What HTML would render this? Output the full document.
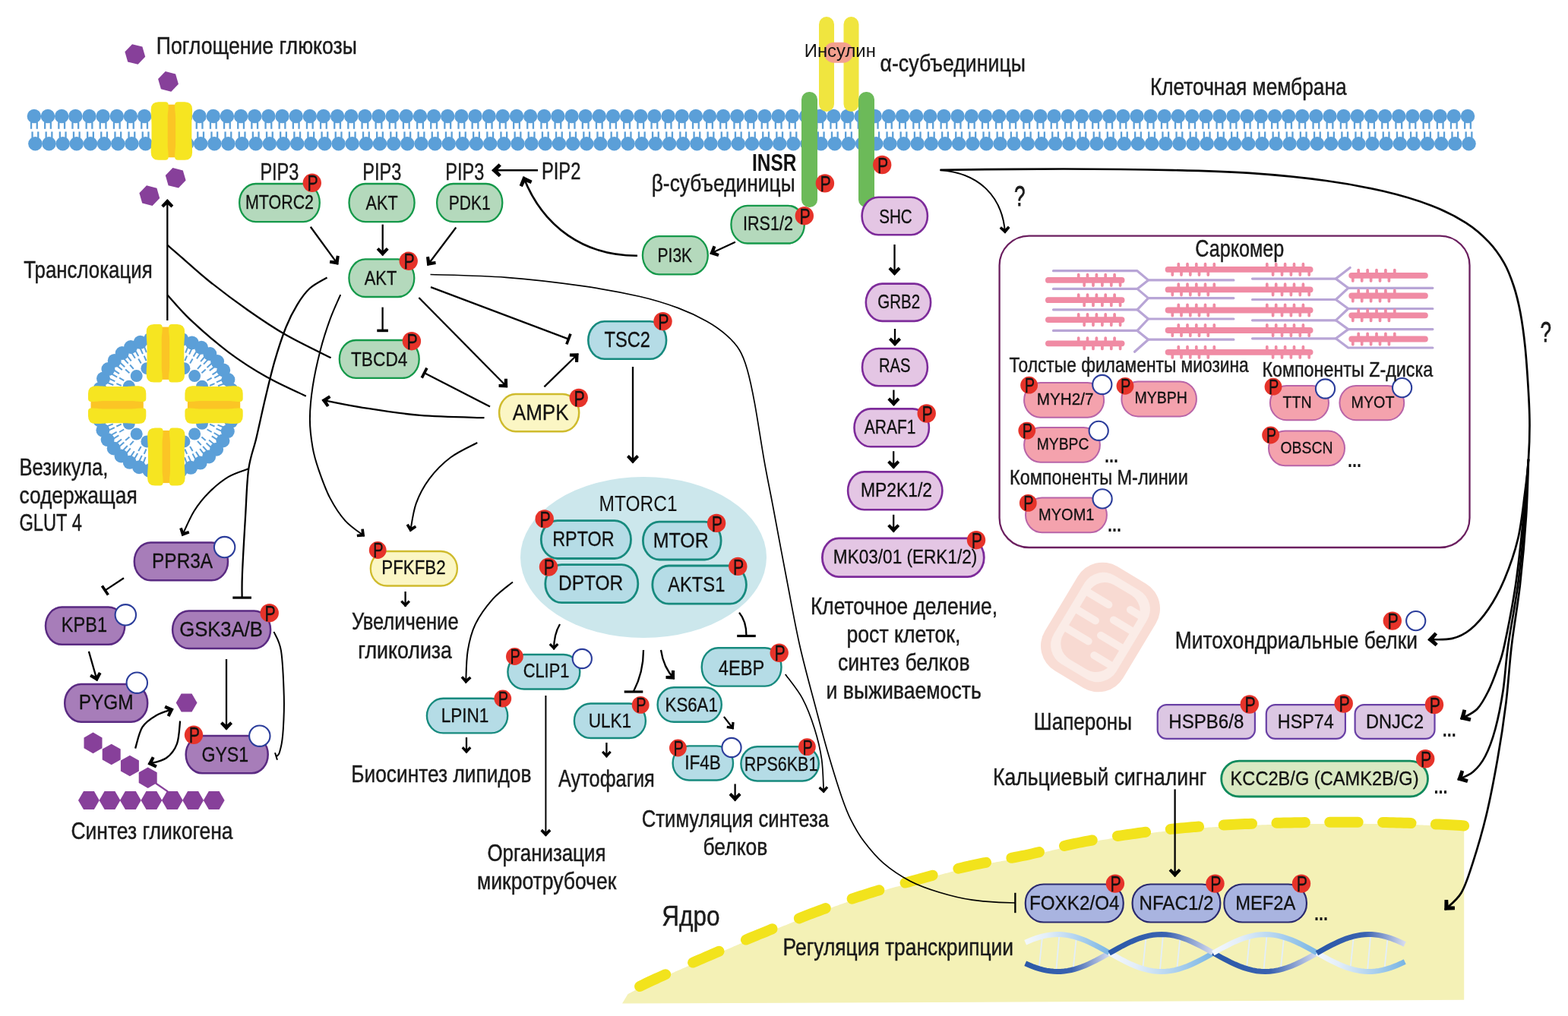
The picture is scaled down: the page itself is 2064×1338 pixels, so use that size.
<!DOCTYPE html>
<html lang="ru"><head><meta charset="utf-8"><title>Инсулиновый сигналинг</title>
<style>
html,body{margin:0;padding:0;background:#fff;}
body{width:2064px;height:1338px;overflow:hidden;font-family:"Liberation Sans",sans-serif;}
svg{display:block;}
svg text{font-family:"Liberation Sans",sans-serif;}
</style></head><body>
<svg width="2064" height="1338" viewBox="0 0 2064 1338">
<defs>
<marker id="ah" markerUnits="strokeWidth" markerWidth="13.043" markerHeight="13.043" viewBox="-15 -15 30 30" refX="0" refY="0" orient="auto" overflow="visible"><path d="M0.9,0 L-7.6,-8 L-10.5,-5.2 L-5.7,0 L-10.5,5.2 L-7.6,8 Z" fill="#000"/></marker>
<marker id="ahs" markerUnits="strokeWidth" markerWidth="13.043" markerHeight="13.043" viewBox="-15 -15 30 30" refX="0" refY="0" orient="auto" overflow="visible"><path d="M0.6,0 L-6.2,-6.4 L-8.5,-4.1 L-4.4,0 L-8.5,4.1 L-6.2,6.4 Z" fill="#000"/></marker>
<marker id="th" markerUnits="strokeWidth" markerWidth="13.043" markerHeight="13.043" viewBox="-15 -15 30 30" refX="0" refY="0" orient="auto" overflow="visible"><rect x="-2" y="-7.3" width="3.6" height="14.6" fill="#000"/></marker>
<marker id="tw" markerUnits="strokeWidth" markerWidth="13.043" markerHeight="13.043" viewBox="-15 -15 30 30" refX="0" refY="0" orient="auto" overflow="visible"><rect x="-1.6" y="-12.3" width="3.2" height="24.6" fill="#000"/></marker>
<marker id="tf" markerUnits="userSpaceOnUse" markerWidth="30" markerHeight="30" viewBox="-15 -15 30 30" refX="0" refY="0" orient="auto" overflow="visible"><rect x="-1.1" y="-13.2" width="2.3" height="26.4" fill="#000"/></marker>
<marker id="ths" markerUnits="userSpaceOnUse" markerWidth="24" markerHeight="24" viewBox="-12 -12 24 24" refX="0" refY="0" orient="auto" overflow="visible"><rect x="-1" y="-5" width="2" height="10" fill="#000"/></marker>
<marker id="ahf" markerUnits="userSpaceOnUse" markerWidth="30" markerHeight="30" viewBox="-15 -15 30 30" refX="0" refY="0" orient="auto" overflow="visible"><path d="M0.6,0 L-6.2,-6.4 L-8.5,-4.1 L-4.4,0 L-8.5,4.1 L-6.2,6.4 Z" fill="#000"/></marker>
<linearGradient id="dna1" x1="0" x2="1" y1="0" y2="0"><stop offset="0" stop-color="#e8f2fb"/><stop offset="1" stop-color="#2f5fae"/></linearGradient>
<linearGradient id="dna2" x1="0" x2="1" y1="0" y2="0"><stop offset="0" stop-color="#2f5fae"/><stop offset="1" stop-color="#e8f2fb"/></linearGradient>
</defs>
<g id="all" style="will-change:opacity" opacity="0.9999">
<path d="M818.9,1321.8 L826.4,1309.2 L827.0,1308.9 L827.7,1308.5 L828.4,1308.1 L829.1,1307.8 L829.9,1307.4 L830.6,1307.0 L831.4,1306.5 L832.2,1306.1 L833.1,1305.7 L833.9,1305.2 L834.8,1304.8 L835.7,1304.3 L836.6,1303.8 L837.6,1303.3 L838.5,1302.8 L839.5,1302.3 L840.5,1301.8 L841.5,1301.3 L842.6,1300.8 L843.7,1300.2 L844.7,1299.7 L845.9,1299.1 L847.0,1298.6 L848.1,1298.0 L849.3,1297.4 L850.5,1296.9 L851.7,1296.3 L853.0,1295.7 L854.2,1295.1 L855.5,1294.5 L856.8,1293.9 L858.1,1293.3 L859.4,1292.7 L860.8,1292.1 L862.3,1291.4 L863.7,1290.7 L865.2,1290.1 L866.7,1289.4 L868.3,1288.7 L869.9,1288.0 L871.5,1287.3 L873.2,1286.5 L874.8,1285.8 L876.5,1285.0 L878.3,1284.3 L880.0,1283.5 L881.8,1282.7 L883.6,1282.0 L885.4,1281.2 L887.2,1280.4 L889.0,1279.6 L890.9,1278.8 L892.7,1278.0 L894.6,1277.2 L896.4,1276.4 L898.3,1275.6 L900.2,1274.7 L902.1,1273.9 L904.0,1273.1 L905.9,1272.3 L907.7,1271.5 L909.6,1270.7 L911.5,1269.9 L913.4,1269.1 L915.2,1268.3 L917.1,1267.5 L918.9,1266.7 L920.7,1265.9 L922.6,1265.1 L924.4,1264.3 L926.1,1263.6 L927.9,1262.8 L929.7,1262.0 L931.4,1261.3 L933.2,1260.5 L934.9,1259.8 L936.7,1259.0 L938.4,1258.3 L940.2,1257.5 L941.9,1256.7 L943.7,1256.0 L945.4,1255.2 L947.2,1254.5 L949.0,1253.7 L950.7,1252.9 L952.5,1252.2 L954.2,1251.4 L956.0,1250.7 L957.7,1249.9 L959.5,1249.2 L961.3,1248.4 L963.0,1247.7 L964.8,1246.9 L966.5,1246.1 L968.3,1245.4 L970.1,1244.6 L971.8,1243.9 L973.6,1243.1 L975.3,1242.4 L977.1,1241.7 L978.9,1240.9 L980.6,1240.2 L982.4,1239.4 L984.2,1238.7 L985.9,1237.9 L987.7,1237.2 L989.5,1236.5 L991.2,1235.7 L993.0,1235.0 L994.8,1234.3 L996.5,1233.5 L998.3,1232.8 L1000.1,1232.1 L1001.8,1231.3 L1003.6,1230.6 L1005.4,1229.9 L1007.2,1229.2 L1009.0,1228.4 L1010.7,1227.7 L1012.5,1227.0 L1014.3,1226.3 L1016.1,1225.5 L1017.9,1224.8 L1019.6,1224.1 L1021.4,1223.4 L1023.2,1222.7 L1025.0,1221.9 L1026.8,1221.2 L1028.6,1220.5 L1030.4,1219.8 L1032.2,1219.1 L1033.9,1218.4 L1035.7,1217.7 L1037.5,1217.0 L1039.3,1216.2 L1041.1,1215.5 L1042.9,1214.8 L1044.7,1214.1 L1046.4,1213.4 L1048.2,1212.7 L1050.0,1212.1 L1051.8,1211.4 L1053.6,1210.7 L1055.3,1210.0 L1057.1,1209.3 L1058.9,1208.6 L1060.7,1207.9 L1062.4,1207.3 L1064.2,1206.6 L1066.0,1205.9 L1067.7,1205.3 L1069.5,1204.6 L1071.3,1203.9 L1073.0,1203.3 L1074.8,1202.6 L1076.5,1202.0 L1078.3,1201.3 L1080.0,1200.7 L1081.8,1200.0 L1083.5,1199.4 L1085.3,1198.7 L1087.0,1198.1 L1088.7,1197.4 L1090.5,1196.8 L1092.2,1196.2 L1094.0,1195.5 L1095.7,1194.9 L1097.4,1194.3 L1099.2,1193.6 L1100.9,1193.0 L1102.6,1192.4 L1104.4,1191.8 L1106.1,1191.1 L1107.9,1190.5 L1109.6,1189.9 L1111.3,1189.3 L1113.1,1188.7 L1114.8,1188.1 L1116.5,1187.5 L1118.3,1186.9 L1120.0,1186.3 L1121.7,1185.7 L1123.5,1185.1 L1125.2,1184.5 L1127.0,1183.9 L1128.7,1183.3 L1130.4,1182.8 L1132.2,1182.2 L1133.9,1181.6 L1135.7,1181.0 L1137.4,1180.5 L1139.2,1179.9 L1141.0,1179.3 L1142.7,1178.8 L1144.5,1178.2 L1146.2,1177.7 L1148.0,1177.1 L1149.8,1176.6 L1151.5,1176.1 L1153.3,1175.5 L1155.1,1175.0 L1156.8,1174.5 L1158.6,1173.9 L1160.4,1173.4 L1162.1,1172.9 L1163.9,1172.4 L1165.7,1171.9 L1167.5,1171.4 L1169.2,1170.8 L1171.0,1170.3 L1172.8,1169.8 L1174.5,1169.3 L1176.3,1168.8 L1178.1,1168.3 L1179.9,1167.8 L1181.6,1167.4 L1183.4,1166.9 L1185.2,1166.4 L1187.0,1165.9 L1188.7,1165.4 L1190.5,1164.9 L1192.3,1164.4 L1194.0,1163.9 L1195.8,1163.4 L1197.6,1163.0 L1199.3,1162.5 L1201.1,1162.0 L1202.9,1161.5 L1204.6,1161.0 L1206.4,1160.6 L1208.1,1160.1 L1209.9,1159.6 L1211.7,1159.1 L1213.4,1158.6 L1215.2,1158.2 L1216.9,1157.7 L1218.7,1157.2 L1220.4,1156.7 L1222.2,1156.2 L1223.9,1155.8 L1225.7,1155.3 L1227.4,1154.8 L1229.1,1154.3 L1230.9,1153.9 L1232.6,1153.4 L1234.4,1152.9 L1236.1,1152.4 L1237.9,1152.0 L1239.6,1151.5 L1241.3,1151.0 L1243.1,1150.6 L1244.8,1150.1 L1246.6,1149.7 L1248.3,1149.2 L1250.0,1148.7 L1251.8,1148.3 L1253.5,1147.8 L1255.3,1147.4 L1257.0,1146.9 L1258.8,1146.5 L1260.5,1146.1 L1262.2,1145.6 L1264.0,1145.2 L1265.7,1144.8 L1267.5,1144.4 L1269.2,1143.9 L1271.0,1143.5 L1272.7,1143.1 L1274.5,1142.7 L1276.2,1142.3 L1277.9,1141.9 L1279.7,1141.5 L1281.5,1141.1 L1283.2,1140.7 L1285.0,1140.4 L1286.7,1140.0 L1288.5,1139.6 L1290.2,1139.3 L1292.0,1138.9 L1293.8,1138.6 L1295.5,1138.2 L1297.3,1137.9 L1299.0,1137.6 L1300.8,1137.2 L1302.6,1136.9 L1304.3,1136.6 L1306.1,1136.3 L1307.9,1136.0 L1309.6,1135.7 L1311.4,1135.3 L1313.1,1135.0 L1314.9,1134.7 L1316.7,1134.4 L1318.4,1134.1 L1320.2,1133.8 L1322.0,1133.5 L1323.7,1133.2 L1325.5,1132.9 L1327.2,1132.6 L1329.0,1132.2 L1330.8,1131.9 L1332.5,1131.6 L1334.3,1131.3 L1336.0,1131.0 L1337.8,1130.6 L1339.5,1130.3 L1341.3,1130.0 L1343.0,1129.6 L1344.8,1129.3 L1346.5,1128.9 L1348.3,1128.6 L1350.0,1128.2 L1351.7,1127.8 L1353.5,1127.5 L1355.2,1127.1 L1356.9,1126.7 L1358.7,1126.3 L1360.4,1125.9 L1362.1,1125.5 L1363.8,1125.1 L1365.6,1124.7 L1367.3,1124.3 L1369.0,1123.9 L1370.7,1123.4 L1372.4,1123.0 L1374.1,1122.6 L1375.9,1122.2 L1377.6,1121.8 L1379.3,1121.3 L1381.0,1120.9 L1382.7,1120.5 L1384.4,1120.0 L1386.1,1119.6 L1387.8,1119.2 L1389.6,1118.8 L1391.3,1118.4 L1393.0,1117.9 L1394.7,1117.5 L1396.4,1117.1 L1398.1,1116.7 L1399.8,1116.3 L1401.6,1115.9 L1403.3,1115.5 L1405.0,1115.1 L1406.7,1114.7 L1408.4,1114.3 L1410.2,1113.9 L1411.9,1113.5 L1413.6,1113.2 L1415.3,1112.8 L1417.1,1112.5 L1418.8,1112.1 L1420.5,1111.8 L1422.3,1111.4 L1424.0,1111.1 L1425.7,1110.7 L1427.5,1110.4 L1429.2,1110.1 L1431.0,1109.7 L1432.7,1109.4 L1434.5,1109.1 L1436.2,1108.8 L1437.9,1108.5 L1439.7,1108.2 L1441.4,1107.9 L1443.2,1107.5 L1444.9,1107.2 L1446.7,1106.9 L1448.4,1106.6 L1450.2,1106.3 L1451.9,1106.1 L1453.7,1105.8 L1455.4,1105.5 L1457.2,1105.2 L1458.9,1104.9 L1460.7,1104.6 L1462.4,1104.3 L1464.2,1104.1 L1466.0,1103.8 L1467.7,1103.5 L1469.5,1103.3 L1471.2,1103.0 L1473.0,1102.7 L1474.7,1102.5 L1476.5,1102.2 L1478.3,1101.9 L1480.0,1101.7 L1481.8,1101.4 L1483.5,1101.2 L1485.3,1100.9 L1487.0,1100.7 L1488.8,1100.4 L1490.6,1100.2 L1492.3,1099.9 L1494.1,1099.7 L1495.8,1099.4 L1497.6,1099.2 L1499.4,1098.9 L1501.1,1098.7 L1502.9,1098.5 L1504.7,1098.2 L1506.4,1098.0 L1508.2,1097.8 L1510.0,1097.5 L1511.7,1097.3 L1513.5,1097.1 L1515.3,1096.9 L1517.0,1096.7 L1518.8,1096.4 L1520.6,1096.2 L1522.4,1096.0 L1524.1,1095.8 L1525.9,1095.6 L1527.7,1095.4 L1529.4,1095.2 L1531.2,1095.0 L1533.0,1094.8 L1534.8,1094.6 L1536.5,1094.4 L1538.3,1094.2 L1540.1,1094.0 L1541.8,1093.8 L1543.6,1093.7 L1545.4,1093.5 L1547.1,1093.3 L1548.9,1093.1 L1550.7,1092.9 L1552.4,1092.8 L1554.2,1092.6 L1556.0,1092.4 L1557.7,1092.3 L1559.5,1092.1 L1561.3,1091.9 L1563.0,1091.8 L1564.8,1091.6 L1566.5,1091.5 L1568.3,1091.3 L1570.1,1091.2 L1571.8,1091.0 L1573.6,1090.9 L1575.4,1090.8 L1577.1,1090.6 L1578.9,1090.5 L1580.6,1090.4 L1582.4,1090.2 L1584.2,1090.1 L1585.9,1090.0 L1587.7,1089.9 L1589.4,1089.8 L1591.2,1089.6 L1592.9,1089.5 L1594.7,1089.4 L1596.5,1089.3 L1598.2,1089.2 L1600.0,1089.1 L1601.7,1089.0 L1603.5,1088.9 L1605.2,1088.8 L1607.0,1088.7 L1608.8,1088.6 L1610.5,1088.5 L1612.3,1088.4 L1614.0,1088.3 L1615.8,1088.2 L1617.5,1088.1 L1619.3,1088.0 L1621.0,1087.9 L1622.8,1087.8 L1624.5,1087.8 L1626.3,1087.7 L1628.0,1087.6 L1629.8,1087.5 L1631.6,1087.4 L1633.3,1087.3 L1635.1,1087.3 L1636.8,1087.2 L1638.5,1087.1 L1640.3,1087.0 L1642.0,1087.0 L1643.8,1086.9 L1645.5,1086.8 L1647.3,1086.8 L1649.0,1086.7 L1650.8,1086.6 L1652.5,1086.6 L1654.3,1086.5 L1656.0,1086.5 L1657.8,1086.4 L1659.5,1086.4 L1661.2,1086.3 L1663.0,1086.3 L1664.7,1086.2 L1666.5,1086.2 L1668.2,1086.1 L1670.0,1086.1 L1671.7,1086.0 L1673.4,1086.0 L1675.2,1085.9 L1676.9,1085.9 L1678.7,1085.8 L1680.4,1085.8 L1682.2,1085.8 L1683.9,1085.7 L1685.6,1085.7 L1687.4,1085.6 L1689.1,1085.6 L1690.9,1085.6 L1692.6,1085.5 L1694.4,1085.5 L1696.1,1085.5 L1697.9,1085.4 L1699.6,1085.4 L1701.3,1085.4 L1703.1,1085.3 L1704.8,1085.3 L1706.6,1085.3 L1708.3,1085.2 L1710.1,1085.2 L1711.8,1085.2 L1713.6,1085.2 L1715.3,1085.1 L1717.1,1085.1 L1718.8,1085.1 L1720.5,1085.1 L1722.3,1085.1 L1724.0,1085.0 L1725.8,1085.0 L1727.5,1085.0 L1729.3,1085.0 L1731.0,1085.0 L1732.8,1084.9 L1734.5,1084.9 L1736.3,1084.9 L1738.0,1084.9 L1739.7,1084.9 L1741.5,1084.9 L1743.2,1084.9 L1745.0,1084.9 L1746.7,1084.9 L1748.5,1084.8 L1750.2,1084.8 L1752.0,1084.8 L1753.7,1084.8 L1755.4,1084.8 L1757.2,1084.8 L1758.9,1084.8 L1760.7,1084.8 L1762.4,1084.8 L1764.2,1084.8 L1765.9,1084.8 L1767.7,1084.8 L1769.4,1084.8 L1771.1,1084.8 L1772.9,1084.8 L1774.6,1084.8 L1776.4,1084.8 L1778.1,1084.8 L1779.9,1084.8 L1781.6,1084.8 L1783.3,1084.8 L1785.1,1084.8 L1786.8,1084.8 L1788.6,1084.8 L1790.3,1084.8 L1792.1,1084.8 L1793.8,1084.8 L1795.5,1084.8 L1797.3,1084.8 L1799.0,1084.9 L1800.8,1084.9 L1802.5,1084.9 L1804.2,1084.9 L1806.0,1084.9 L1807.7,1084.9 L1809.5,1084.9 L1811.2,1084.9 L1813.0,1085.0 L1814.7,1085.0 L1816.4,1085.0 L1818.2,1085.0 L1819.9,1085.0 L1821.7,1085.1 L1823.4,1085.1 L1825.2,1085.1 L1826.9,1085.1 L1828.6,1085.2 L1830.4,1085.2 L1832.1,1085.2 L1833.9,1085.3 L1835.6,1085.3 L1837.4,1085.4 L1839.1,1085.4 L1840.9,1085.4 L1842.6,1085.5 L1844.4,1085.5 L1846.3,1085.6 L1848.1,1085.7 L1849.9,1085.7 L1851.8,1085.8 L1853.7,1085.8 L1855.6,1085.9 L1857.4,1086.0 L1859.3,1086.1 L1861.3,1086.1 L1863.2,1086.2 L1865.1,1086.3 L1867.0,1086.3 L1868.9,1086.4 L1870.8,1086.5 L1872.7,1086.6 L1874.5,1086.7 L1876.4,1086.8 L1878.3,1086.8 L1880.1,1086.9 L1881.9,1087.0 L1883.8,1087.1 L1885.6,1087.2 L1887.3,1087.2 L1889.1,1087.3 L1890.8,1087.4 L1892.5,1087.5 L1894.2,1087.6 L1895.8,1087.6 L1897.4,1087.7 L1899.0,1087.8 L1900.5,1087.9 L1902.0,1088.0 L1903.5,1088.0 L1904.9,1088.1 L1906.3,1088.2 L1907.6,1088.2 L1908.9,1088.3 L1910.1,1088.4 L1911.4,1088.4 L1912.6,1088.5 L1913.7,1088.6 L1914.9,1088.6 L1916.0,1088.7 L1917.0,1088.8 L1918.1,1088.8 L1919.1,1088.9 L1920.1,1089.0 L1921.1,1089.0 L1922.1,1089.1 L1923.0,1089.1 L1923.9,1089.2 L1924.8,1089.3 L1925.6,1089.3 L1926.5,1089.4 L1927.2,1090 L1927.2,1316.8 L1100,1320.6 L818.9,1321.6 Z" fill="#f4f1b6"/>
<g fill="none" stroke="#f2e31c" stroke-width="14" stroke-linecap="round"><path d="M842.1,1299.0 L846.3,1296.9 L850.5,1294.9 L854.7,1292.9 L859.0,1290.9 L863.2,1289.0 L867.5,1287.0 L871.8,1285.1 L876.1,1283.2"/><path d="M912.1,1267.6 L916.4,1265.8 L920.7,1263.9 L925.0,1262.1 L929.3,1260.2 L933.6,1258.3 L937.9,1256.5 L942.2,1254.6 L946.5,1252.8"/><path d="M981.9,1237.6 L986.2,1235.8 L990.5,1234.0 L994.9,1232.2 L999.2,1230.4 L1003.5,1228.7 L1007.9,1226.9 L1012.2,1225.1 L1016.6,1223.3"/><path d="M1051.8,1209.4 L1056.1,1207.7 L1060.5,1206.0 L1064.9,1204.3 L1069.3,1202.7 L1073.7,1201.0 L1078.1,1199.4 L1082.4,1197.8 L1086.8,1196.1"/><path d="M1121.6,1183.7 L1126.1,1182.2 L1130.5,1180.7 L1135.0,1179.3 L1139.4,1177.8 L1143.9,1176.4 L1148.4,1175.0 L1152.9,1173.6 L1157.4,1172.3"/><path d="M1191.6,1162.6 L1196.1,1161.4 L1200.6,1160.1 L1205.1,1158.9 L1209.7,1157.7 L1214.2,1156.4 L1218.7,1155.2 L1223.2,1154.0 L1227.7,1152.7"/><path d="M1261.4,1143.8 L1266.0,1142.7 L1270.5,1141.6 L1275.1,1140.6 L1279.6,1139.5 L1284.2,1138.5 L1288.8,1137.6 L1293.4,1136.6 L1298.0,1135.8"/><path d="M1331.3,1129.8 L1335.9,1129.0 L1340.5,1128.1 L1345.1,1127.2 L1349.7,1126.3 L1354.3,1125.3 L1358.9,1124.2 L1363.4,1123.2 L1368.0,1122.1"/><path d="M1401.0,1114.0 L1405.6,1112.9 L1410.2,1111.9 L1414.7,1110.9 L1419.3,1110.0 L1423.9,1109.1 L1428.5,1108.2 L1433.1,1107.3 L1437.8,1106.5"/><path d="M1470.9,1101.0 L1475.6,1100.3 L1480.2,1099.6 L1484.8,1099.0 L1489.5,1098.3 L1494.1,1097.7 L1498.8,1097.0 L1503.4,1096.4 L1508.1,1095.8"/><path d="M1540.8,1091.9 L1545.4,1091.5 L1550.1,1091.0 L1554.8,1090.5 L1559.4,1090.1 L1564.1,1089.7 L1568.8,1089.3 L1573.4,1088.9 L1578.1,1088.6"/><path d="M1610.6,1086.5 L1615.3,1086.2 L1620.0,1086.0 L1624.6,1085.8 L1629.3,1085.5 L1634.0,1085.3 L1638.7,1085.1 L1643.4,1084.9 L1648.0,1084.7"/><path d="M1680.4,1083.8 L1685.1,1083.7 L1689.8,1083.6 L1694.5,1083.5 L1699.1,1083.4 L1703.8,1083.3 L1708.5,1083.2 L1713.2,1083.2 L1717.9,1083.1"/><path d="M1750.2,1082.8 L1754.9,1082.8 L1759.6,1082.8 L1764.3,1082.8 L1768.9,1082.8 L1773.6,1082.8 L1778.3,1082.8 L1783.0,1082.8 L1787.7,1082.8"/><path d="M1820.0,1083.0 L1824.7,1083.1 L1829.4,1083.2 L1834.1,1083.3 L1838.7,1083.4 L1843.4,1083.5 L1848.1,1083.7 L1852.8,1083.8 L1857.5,1084.0"/><path d="M1889.8,1085.4 L1894.5,1085.6 L1899.2,1085.8 L1903.8,1086.0 L1908.5,1086.3 L1913.2,1086.5 L1917.9,1086.8 L1922.6,1087.1 L1927.2,1087.5"/></g>
<ellipse cx="847" cy="734" rx="162" ry="106" fill="#cce7ec"/>
<g fill="#5b9fd8" stroke="none"><circle cx="44.9" cy="153" r="9.25"/><circle cx="46.4" cy="189.3" r="9.25"/><rect x="39.9" y="158" width="2.3" height="11.8"/><rect x="47.6" y="158" width="2.3" height="11.8"/><rect x="41.4" y="173.4" width="2.3" height="11"/><rect x="49.1" y="173.4" width="2.3" height="11"/><circle cx="63.0" cy="153" r="9.25"/><circle cx="64.5" cy="189.3" r="9.25"/><rect x="58.0" y="158" width="2.3" height="11.8"/><rect x="65.7" y="158" width="2.3" height="11.8"/><rect x="59.5" y="173.4" width="2.3" height="11"/><rect x="67.2" y="173.4" width="2.3" height="11"/><circle cx="81.2" cy="153" r="9.25"/><circle cx="82.7" cy="189.3" r="9.25"/><rect x="76.2" y="158" width="2.3" height="11.8"/><rect x="83.9" y="158" width="2.3" height="11.8"/><rect x="77.7" y="173.4" width="2.3" height="11"/><rect x="85.4" y="173.4" width="2.3" height="11"/><circle cx="99.3" cy="153" r="9.25"/><circle cx="100.8" cy="189.3" r="9.25"/><rect x="94.3" y="158" width="2.3" height="11.8"/><rect x="102.0" y="158" width="2.3" height="11.8"/><rect x="95.8" y="173.4" width="2.3" height="11"/><rect x="103.5" y="173.4" width="2.3" height="11"/><circle cx="117.5" cy="153" r="9.25"/><circle cx="119.0" cy="189.3" r="9.25"/><rect x="112.5" y="158" width="2.3" height="11.8"/><rect x="120.2" y="158" width="2.3" height="11.8"/><rect x="114.0" y="173.4" width="2.3" height="11"/><rect x="121.7" y="173.4" width="2.3" height="11"/><circle cx="135.6" cy="153" r="9.25"/><circle cx="137.1" cy="189.3" r="9.25"/><rect x="130.6" y="158" width="2.3" height="11.8"/><rect x="138.3" y="158" width="2.3" height="11.8"/><rect x="132.1" y="173.4" width="2.3" height="11"/><rect x="139.8" y="173.4" width="2.3" height="11"/><circle cx="153.8" cy="153" r="9.25"/><circle cx="155.3" cy="189.3" r="9.25"/><rect x="148.8" y="158" width="2.3" height="11.8"/><rect x="156.5" y="158" width="2.3" height="11.8"/><rect x="150.3" y="173.4" width="2.3" height="11"/><rect x="158.0" y="173.4" width="2.3" height="11"/><circle cx="171.9" cy="153" r="9.25"/><circle cx="173.4" cy="189.3" r="9.25"/><rect x="166.9" y="158" width="2.3" height="11.8"/><rect x="174.6" y="158" width="2.3" height="11.8"/><rect x="168.4" y="173.4" width="2.3" height="11"/><rect x="176.1" y="173.4" width="2.3" height="11"/><circle cx="190.1" cy="153" r="9.25"/><circle cx="191.6" cy="189.3" r="9.25"/><rect x="185.1" y="158" width="2.3" height="11.8"/><rect x="192.8" y="158" width="2.3" height="11.8"/><rect x="186.6" y="173.4" width="2.3" height="11"/><rect x="194.3" y="173.4" width="2.3" height="11"/><circle cx="208.2" cy="153" r="9.25"/><circle cx="209.7" cy="189.3" r="9.25"/><rect x="203.2" y="158" width="2.3" height="11.8"/><rect x="210.9" y="158" width="2.3" height="11.8"/><rect x="204.7" y="173.4" width="2.3" height="11"/><rect x="212.4" y="173.4" width="2.3" height="11"/><circle cx="226.3" cy="153" r="9.25"/><circle cx="227.8" cy="189.3" r="9.25"/><rect x="221.3" y="158" width="2.3" height="11.8"/><rect x="229.0" y="158" width="2.3" height="11.8"/><rect x="222.8" y="173.4" width="2.3" height="11"/><rect x="230.5" y="173.4" width="2.3" height="11"/><circle cx="244.5" cy="153" r="9.25"/><circle cx="246.0" cy="189.3" r="9.25"/><rect x="239.5" y="158" width="2.3" height="11.8"/><rect x="247.2" y="158" width="2.3" height="11.8"/><rect x="241.0" y="173.4" width="2.3" height="11"/><rect x="248.7" y="173.4" width="2.3" height="11"/><circle cx="262.6" cy="153" r="9.25"/><circle cx="264.1" cy="189.3" r="9.25"/><rect x="257.6" y="158" width="2.3" height="11.8"/><rect x="265.3" y="158" width="2.3" height="11.8"/><rect x="259.1" y="173.4" width="2.3" height="11"/><rect x="266.8" y="173.4" width="2.3" height="11"/><circle cx="280.8" cy="153" r="9.25"/><circle cx="282.3" cy="189.3" r="9.25"/><rect x="275.8" y="158" width="2.3" height="11.8"/><rect x="283.5" y="158" width="2.3" height="11.8"/><rect x="277.3" y="173.4" width="2.3" height="11"/><rect x="285.0" y="173.4" width="2.3" height="11"/><circle cx="298.9" cy="153" r="9.25"/><circle cx="300.4" cy="189.3" r="9.25"/><rect x="293.9" y="158" width="2.3" height="11.8"/><rect x="301.6" y="158" width="2.3" height="11.8"/><rect x="295.4" y="173.4" width="2.3" height="11"/><rect x="303.1" y="173.4" width="2.3" height="11"/><circle cx="317.1" cy="153" r="9.25"/><circle cx="318.6" cy="189.3" r="9.25"/><rect x="312.1" y="158" width="2.3" height="11.8"/><rect x="319.8" y="158" width="2.3" height="11.8"/><rect x="313.6" y="173.4" width="2.3" height="11"/><rect x="321.3" y="173.4" width="2.3" height="11"/><circle cx="335.2" cy="153" r="9.25"/><circle cx="336.7" cy="189.3" r="9.25"/><rect x="330.2" y="158" width="2.3" height="11.8"/><rect x="337.9" y="158" width="2.3" height="11.8"/><rect x="331.7" y="173.4" width="2.3" height="11"/><rect x="339.4" y="173.4" width="2.3" height="11"/><circle cx="353.4" cy="153" r="9.25"/><circle cx="354.9" cy="189.3" r="9.25"/><rect x="348.4" y="158" width="2.3" height="11.8"/><rect x="356.1" y="158" width="2.3" height="11.8"/><rect x="349.9" y="173.4" width="2.3" height="11"/><rect x="357.6" y="173.4" width="2.3" height="11"/><circle cx="371.5" cy="153" r="9.25"/><circle cx="373.0" cy="189.3" r="9.25"/><rect x="366.5" y="158" width="2.3" height="11.8"/><rect x="374.2" y="158" width="2.3" height="11.8"/><rect x="368.0" y="173.4" width="2.3" height="11"/><rect x="375.7" y="173.4" width="2.3" height="11"/><circle cx="389.7" cy="153" r="9.25"/><circle cx="391.2" cy="189.3" r="9.25"/><rect x="384.7" y="158" width="2.3" height="11.8"/><rect x="392.4" y="158" width="2.3" height="11.8"/><rect x="386.2" y="173.4" width="2.3" height="11"/><rect x="393.9" y="173.4" width="2.3" height="11"/><circle cx="407.8" cy="153" r="9.25"/><circle cx="409.3" cy="189.3" r="9.25"/><rect x="402.8" y="158" width="2.3" height="11.8"/><rect x="410.5" y="158" width="2.3" height="11.8"/><rect x="404.3" y="173.4" width="2.3" height="11"/><rect x="412.0" y="173.4" width="2.3" height="11"/><circle cx="425.9" cy="153" r="9.25"/><circle cx="427.4" cy="189.3" r="9.25"/><rect x="420.9" y="158" width="2.3" height="11.8"/><rect x="428.6" y="158" width="2.3" height="11.8"/><rect x="422.4" y="173.4" width="2.3" height="11"/><rect x="430.1" y="173.4" width="2.3" height="11"/><circle cx="444.1" cy="153" r="9.25"/><circle cx="445.6" cy="189.3" r="9.25"/><rect x="439.1" y="158" width="2.3" height="11.8"/><rect x="446.8" y="158" width="2.3" height="11.8"/><rect x="440.6" y="173.4" width="2.3" height="11"/><rect x="448.3" y="173.4" width="2.3" height="11"/><circle cx="462.2" cy="153" r="9.25"/><circle cx="463.7" cy="189.3" r="9.25"/><rect x="457.2" y="158" width="2.3" height="11.8"/><rect x="464.9" y="158" width="2.3" height="11.8"/><rect x="458.7" y="173.4" width="2.3" height="11"/><rect x="466.4" y="173.4" width="2.3" height="11"/><circle cx="480.4" cy="153" r="9.25"/><circle cx="481.9" cy="189.3" r="9.25"/><rect x="475.4" y="158" width="2.3" height="11.8"/><rect x="483.1" y="158" width="2.3" height="11.8"/><rect x="476.9" y="173.4" width="2.3" height="11"/><rect x="484.6" y="173.4" width="2.3" height="11"/><circle cx="498.5" cy="153" r="9.25"/><circle cx="500.0" cy="189.3" r="9.25"/><rect x="493.5" y="158" width="2.3" height="11.8"/><rect x="501.2" y="158" width="2.3" height="11.8"/><rect x="495.0" y="173.4" width="2.3" height="11"/><rect x="502.7" y="173.4" width="2.3" height="11"/><circle cx="516.7" cy="153" r="9.25"/><circle cx="518.2" cy="189.3" r="9.25"/><rect x="511.7" y="158" width="2.3" height="11.8"/><rect x="519.4" y="158" width="2.3" height="11.8"/><rect x="513.2" y="173.4" width="2.3" height="11"/><rect x="520.9" y="173.4" width="2.3" height="11"/><circle cx="534.8" cy="153" r="9.25"/><circle cx="536.3" cy="189.3" r="9.25"/><rect x="529.8" y="158" width="2.3" height="11.8"/><rect x="537.5" y="158" width="2.3" height="11.8"/><rect x="531.3" y="173.4" width="2.3" height="11"/><rect x="539.0" y="173.4" width="2.3" height="11"/><circle cx="553.0" cy="153" r="9.25"/><circle cx="554.5" cy="189.3" r="9.25"/><rect x="548.0" y="158" width="2.3" height="11.8"/><rect x="555.7" y="158" width="2.3" height="11.8"/><rect x="549.5" y="173.4" width="2.3" height="11"/><rect x="557.2" y="173.4" width="2.3" height="11"/><circle cx="571.1" cy="153" r="9.25"/><circle cx="572.6" cy="189.3" r="9.25"/><rect x="566.1" y="158" width="2.3" height="11.8"/><rect x="573.8" y="158" width="2.3" height="11.8"/><rect x="567.6" y="173.4" width="2.3" height="11"/><rect x="575.3" y="173.4" width="2.3" height="11"/><circle cx="589.2" cy="153" r="9.25"/><circle cx="590.8" cy="189.3" r="9.25"/><rect x="584.2" y="158" width="2.3" height="11.8"/><rect x="592.0" y="158" width="2.3" height="11.8"/><rect x="585.8" y="173.4" width="2.3" height="11"/><rect x="593.5" y="173.4" width="2.3" height="11"/><circle cx="607.4" cy="153" r="9.25"/><circle cx="608.9" cy="189.3" r="9.25"/><rect x="602.4" y="158" width="2.3" height="11.8"/><rect x="610.1" y="158" width="2.3" height="11.8"/><rect x="603.9" y="173.4" width="2.3" height="11"/><rect x="611.6" y="173.4" width="2.3" height="11"/><circle cx="625.5" cy="153" r="9.25"/><circle cx="627.0" cy="189.3" r="9.25"/><rect x="620.5" y="158" width="2.3" height="11.8"/><rect x="628.2" y="158" width="2.3" height="11.8"/><rect x="622.0" y="173.4" width="2.3" height="11"/><rect x="629.7" y="173.4" width="2.3" height="11"/><circle cx="643.7" cy="153" r="9.25"/><circle cx="645.2" cy="189.3" r="9.25"/><rect x="638.7" y="158" width="2.3" height="11.8"/><rect x="646.4" y="158" width="2.3" height="11.8"/><rect x="640.2" y="173.4" width="2.3" height="11"/><rect x="647.9" y="173.4" width="2.3" height="11"/><circle cx="661.8" cy="153" r="9.25"/><circle cx="663.3" cy="189.3" r="9.25"/><rect x="656.8" y="158" width="2.3" height="11.8"/><rect x="664.5" y="158" width="2.3" height="11.8"/><rect x="658.3" y="173.4" width="2.3" height="11"/><rect x="666.0" y="173.4" width="2.3" height="11"/><circle cx="680.0" cy="153" r="9.25"/><circle cx="681.5" cy="189.3" r="9.25"/><rect x="675.0" y="158" width="2.3" height="11.8"/><rect x="682.7" y="158" width="2.3" height="11.8"/><rect x="676.5" y="173.4" width="2.3" height="11"/><rect x="684.2" y="173.4" width="2.3" height="11"/><circle cx="698.1" cy="153" r="9.25"/><circle cx="699.6" cy="189.3" r="9.25"/><rect x="693.1" y="158" width="2.3" height="11.8"/><rect x="700.8" y="158" width="2.3" height="11.8"/><rect x="694.6" y="173.4" width="2.3" height="11"/><rect x="702.3" y="173.4" width="2.3" height="11"/><circle cx="716.3" cy="153" r="9.25"/><circle cx="717.8" cy="189.3" r="9.25"/><rect x="711.3" y="158" width="2.3" height="11.8"/><rect x="719.0" y="158" width="2.3" height="11.8"/><rect x="712.8" y="173.4" width="2.3" height="11"/><rect x="720.5" y="173.4" width="2.3" height="11"/><circle cx="734.4" cy="153" r="9.25"/><circle cx="735.9" cy="189.3" r="9.25"/><rect x="729.4" y="158" width="2.3" height="11.8"/><rect x="737.1" y="158" width="2.3" height="11.8"/><rect x="730.9" y="173.4" width="2.3" height="11"/><rect x="738.6" y="173.4" width="2.3" height="11"/><circle cx="752.6" cy="153" r="9.25"/><circle cx="754.1" cy="189.3" r="9.25"/><rect x="747.6" y="158" width="2.3" height="11.8"/><rect x="755.3" y="158" width="2.3" height="11.8"/><rect x="749.1" y="173.4" width="2.3" height="11"/><rect x="756.8" y="173.4" width="2.3" height="11"/><circle cx="770.7" cy="153" r="9.25"/><circle cx="772.2" cy="189.3" r="9.25"/><rect x="765.7" y="158" width="2.3" height="11.8"/><rect x="773.4" y="158" width="2.3" height="11.8"/><rect x="767.2" y="173.4" width="2.3" height="11"/><rect x="774.9" y="173.4" width="2.3" height="11"/><circle cx="788.8" cy="153" r="9.25"/><circle cx="790.3" cy="189.3" r="9.25"/><rect x="783.8" y="158" width="2.3" height="11.8"/><rect x="791.5" y="158" width="2.3" height="11.8"/><rect x="785.3" y="173.4" width="2.3" height="11"/><rect x="793.0" y="173.4" width="2.3" height="11"/><circle cx="807.0" cy="153" r="9.25"/><circle cx="808.5" cy="189.3" r="9.25"/><rect x="802.0" y="158" width="2.3" height="11.8"/><rect x="809.7" y="158" width="2.3" height="11.8"/><rect x="803.5" y="173.4" width="2.3" height="11"/><rect x="811.2" y="173.4" width="2.3" height="11"/><circle cx="825.1" cy="153" r="9.25"/><circle cx="826.6" cy="189.3" r="9.25"/><rect x="820.1" y="158" width="2.3" height="11.8"/><rect x="827.8" y="158" width="2.3" height="11.8"/><rect x="821.6" y="173.4" width="2.3" height="11"/><rect x="829.3" y="173.4" width="2.3" height="11"/><circle cx="843.3" cy="153" r="9.25"/><circle cx="844.8" cy="189.3" r="9.25"/><rect x="838.3" y="158" width="2.3" height="11.8"/><rect x="846.0" y="158" width="2.3" height="11.8"/><rect x="839.8" y="173.4" width="2.3" height="11"/><rect x="847.5" y="173.4" width="2.3" height="11"/><circle cx="861.4" cy="153" r="9.25"/><circle cx="862.9" cy="189.3" r="9.25"/><rect x="856.4" y="158" width="2.3" height="11.8"/><rect x="864.1" y="158" width="2.3" height="11.8"/><rect x="857.9" y="173.4" width="2.3" height="11"/><rect x="865.6" y="173.4" width="2.3" height="11"/><circle cx="879.6" cy="153" r="9.25"/><circle cx="881.1" cy="189.3" r="9.25"/><rect x="874.6" y="158" width="2.3" height="11.8"/><rect x="882.3" y="158" width="2.3" height="11.8"/><rect x="876.1" y="173.4" width="2.3" height="11"/><rect x="883.8" y="173.4" width="2.3" height="11"/><circle cx="897.7" cy="153" r="9.25"/><circle cx="899.2" cy="189.3" r="9.25"/><rect x="892.7" y="158" width="2.3" height="11.8"/><rect x="900.4" y="158" width="2.3" height="11.8"/><rect x="894.2" y="173.4" width="2.3" height="11"/><rect x="901.9" y="173.4" width="2.3" height="11"/><circle cx="915.9" cy="153" r="9.25"/><circle cx="917.4" cy="189.3" r="9.25"/><rect x="910.9" y="158" width="2.3" height="11.8"/><rect x="918.6" y="158" width="2.3" height="11.8"/><rect x="912.4" y="173.4" width="2.3" height="11"/><rect x="920.1" y="173.4" width="2.3" height="11"/><circle cx="934.0" cy="153" r="9.25"/><circle cx="935.5" cy="189.3" r="9.25"/><rect x="929.0" y="158" width="2.3" height="11.8"/><rect x="936.7" y="158" width="2.3" height="11.8"/><rect x="930.5" y="173.4" width="2.3" height="11"/><rect x="938.2" y="173.4" width="2.3" height="11"/><circle cx="952.1" cy="153" r="9.25"/><circle cx="953.6" cy="189.3" r="9.25"/><rect x="947.1" y="158" width="2.3" height="11.8"/><rect x="954.9" y="158" width="2.3" height="11.8"/><rect x="948.6" y="173.4" width="2.3" height="11"/><rect x="956.4" y="173.4" width="2.3" height="11"/><circle cx="970.3" cy="153" r="9.25"/><circle cx="971.8" cy="189.3" r="9.25"/><rect x="965.3" y="158" width="2.3" height="11.8"/><rect x="973.0" y="158" width="2.3" height="11.8"/><rect x="966.8" y="173.4" width="2.3" height="11"/><rect x="974.5" y="173.4" width="2.3" height="11"/><circle cx="988.4" cy="153" r="9.25"/><circle cx="989.9" cy="189.3" r="9.25"/><rect x="983.4" y="158" width="2.3" height="11.8"/><rect x="991.1" y="158" width="2.3" height="11.8"/><rect x="984.9" y="173.4" width="2.3" height="11"/><rect x="992.6" y="173.4" width="2.3" height="11"/><circle cx="1006.6" cy="153" r="9.25"/><circle cx="1008.1" cy="189.3" r="9.25"/><rect x="1001.6" y="158" width="2.3" height="11.8"/><rect x="1009.3" y="158" width="2.3" height="11.8"/><rect x="1003.1" y="173.4" width="2.3" height="11"/><rect x="1010.8" y="173.4" width="2.3" height="11"/><circle cx="1024.7" cy="153" r="9.25"/><circle cx="1026.2" cy="189.3" r="9.25"/><rect x="1019.7" y="158" width="2.3" height="11.8"/><rect x="1027.4" y="158" width="2.3" height="11.8"/><rect x="1021.2" y="173.4" width="2.3" height="11"/><rect x="1028.9" y="173.4" width="2.3" height="11"/><circle cx="1042.9" cy="153" r="9.25"/><circle cx="1044.4" cy="189.3" r="9.25"/><rect x="1037.9" y="158" width="2.3" height="11.8"/><rect x="1045.6" y="158" width="2.3" height="11.8"/><rect x="1039.4" y="173.4" width="2.3" height="11"/><rect x="1047.1" y="173.4" width="2.3" height="11"/><circle cx="1061.0" cy="153" r="9.25"/><circle cx="1062.5" cy="189.3" r="9.25"/><rect x="1056.0" y="158" width="2.3" height="11.8"/><rect x="1063.7" y="158" width="2.3" height="11.8"/><rect x="1057.5" y="173.4" width="2.3" height="11"/><rect x="1065.2" y="173.4" width="2.3" height="11"/><circle cx="1079.2" cy="153" r="9.25"/><circle cx="1080.7" cy="189.3" r="9.25"/><rect x="1074.2" y="158" width="2.3" height="11.8"/><rect x="1081.9" y="158" width="2.3" height="11.8"/><rect x="1075.7" y="173.4" width="2.3" height="11"/><rect x="1083.4" y="173.4" width="2.3" height="11"/><circle cx="1097.3" cy="153" r="9.25"/><circle cx="1098.8" cy="189.3" r="9.25"/><rect x="1092.3" y="158" width="2.3" height="11.8"/><rect x="1100.0" y="158" width="2.3" height="11.8"/><rect x="1093.8" y="173.4" width="2.3" height="11"/><rect x="1101.5" y="173.4" width="2.3" height="11"/><circle cx="1115.5" cy="153" r="9.25"/><circle cx="1117.0" cy="189.3" r="9.25"/><rect x="1110.5" y="158" width="2.3" height="11.8"/><rect x="1118.2" y="158" width="2.3" height="11.8"/><rect x="1112.0" y="173.4" width="2.3" height="11"/><rect x="1119.7" y="173.4" width="2.3" height="11"/><circle cx="1133.6" cy="153" r="9.25"/><circle cx="1135.1" cy="189.3" r="9.25"/><rect x="1128.6" y="158" width="2.3" height="11.8"/><rect x="1136.3" y="158" width="2.3" height="11.8"/><rect x="1130.1" y="173.4" width="2.3" height="11"/><rect x="1137.8" y="173.4" width="2.3" height="11"/><circle cx="1151.7" cy="153" r="9.25"/><circle cx="1153.2" cy="189.3" r="9.25"/><rect x="1146.7" y="158" width="2.3" height="11.8"/><rect x="1154.4" y="158" width="2.3" height="11.8"/><rect x="1148.2" y="173.4" width="2.3" height="11"/><rect x="1155.9" y="173.4" width="2.3" height="11"/><circle cx="1169.9" cy="153" r="9.25"/><circle cx="1171.4" cy="189.3" r="9.25"/><rect x="1164.9" y="158" width="2.3" height="11.8"/><rect x="1172.6" y="158" width="2.3" height="11.8"/><rect x="1166.4" y="173.4" width="2.3" height="11"/><rect x="1174.1" y="173.4" width="2.3" height="11"/><circle cx="1188.0" cy="153" r="9.25"/><circle cx="1189.5" cy="189.3" r="9.25"/><rect x="1183.0" y="158" width="2.3" height="11.8"/><rect x="1190.7" y="158" width="2.3" height="11.8"/><rect x="1184.5" y="173.4" width="2.3" height="11"/><rect x="1192.2" y="173.4" width="2.3" height="11"/><circle cx="1206.2" cy="153" r="9.25"/><circle cx="1207.7" cy="189.3" r="9.25"/><rect x="1201.2" y="158" width="2.3" height="11.8"/><rect x="1208.9" y="158" width="2.3" height="11.8"/><rect x="1202.7" y="173.4" width="2.3" height="11"/><rect x="1210.4" y="173.4" width="2.3" height="11"/><circle cx="1224.3" cy="153" r="9.25"/><circle cx="1225.8" cy="189.3" r="9.25"/><rect x="1219.3" y="158" width="2.3" height="11.8"/><rect x="1227.0" y="158" width="2.3" height="11.8"/><rect x="1220.8" y="173.4" width="2.3" height="11"/><rect x="1228.5" y="173.4" width="2.3" height="11"/><circle cx="1242.5" cy="153" r="9.25"/><circle cx="1244.0" cy="189.3" r="9.25"/><rect x="1237.5" y="158" width="2.3" height="11.8"/><rect x="1245.2" y="158" width="2.3" height="11.8"/><rect x="1239.0" y="173.4" width="2.3" height="11"/><rect x="1246.7" y="173.4" width="2.3" height="11"/><circle cx="1260.6" cy="153" r="9.25"/><circle cx="1262.1" cy="189.3" r="9.25"/><rect x="1255.6" y="158" width="2.3" height="11.8"/><rect x="1263.3" y="158" width="2.3" height="11.8"/><rect x="1257.1" y="173.4" width="2.3" height="11"/><rect x="1264.8" y="173.4" width="2.3" height="11"/><circle cx="1278.8" cy="153" r="9.25"/><circle cx="1280.3" cy="189.3" r="9.25"/><rect x="1273.8" y="158" width="2.3" height="11.8"/><rect x="1281.5" y="158" width="2.3" height="11.8"/><rect x="1275.3" y="173.4" width="2.3" height="11"/><rect x="1283.0" y="173.4" width="2.3" height="11"/><circle cx="1296.9" cy="153" r="9.25"/><circle cx="1298.4" cy="189.3" r="9.25"/><rect x="1291.9" y="158" width="2.3" height="11.8"/><rect x="1299.6" y="158" width="2.3" height="11.8"/><rect x="1293.4" y="173.4" width="2.3" height="11"/><rect x="1301.1" y="173.4" width="2.3" height="11"/><circle cx="1315.0" cy="153" r="9.25"/><circle cx="1316.5" cy="189.3" r="9.25"/><rect x="1310.0" y="158" width="2.3" height="11.8"/><rect x="1317.8" y="158" width="2.3" height="11.8"/><rect x="1311.5" y="173.4" width="2.3" height="11"/><rect x="1319.2" y="173.4" width="2.3" height="11"/><circle cx="1333.2" cy="153" r="9.25"/><circle cx="1334.7" cy="189.3" r="9.25"/><rect x="1328.2" y="158" width="2.3" height="11.8"/><rect x="1335.9" y="158" width="2.3" height="11.8"/><rect x="1329.7" y="173.4" width="2.3" height="11"/><rect x="1337.4" y="173.4" width="2.3" height="11"/><circle cx="1351.3" cy="153" r="9.25"/><circle cx="1352.8" cy="189.3" r="9.25"/><rect x="1346.3" y="158" width="2.3" height="11.8"/><rect x="1354.0" y="158" width="2.3" height="11.8"/><rect x="1347.8" y="173.4" width="2.3" height="11"/><rect x="1355.5" y="173.4" width="2.3" height="11"/><circle cx="1369.5" cy="153" r="9.25"/><circle cx="1371.0" cy="189.3" r="9.25"/><rect x="1364.5" y="158" width="2.3" height="11.8"/><rect x="1372.2" y="158" width="2.3" height="11.8"/><rect x="1366.0" y="173.4" width="2.3" height="11"/><rect x="1373.7" y="173.4" width="2.3" height="11"/><circle cx="1387.6" cy="153" r="9.25"/><circle cx="1389.1" cy="189.3" r="9.25"/><rect x="1382.6" y="158" width="2.3" height="11.8"/><rect x="1390.3" y="158" width="2.3" height="11.8"/><rect x="1384.1" y="173.4" width="2.3" height="11"/><rect x="1391.8" y="173.4" width="2.3" height="11"/><circle cx="1405.8" cy="153" r="9.25"/><circle cx="1407.3" cy="189.3" r="9.25"/><rect x="1400.8" y="158" width="2.3" height="11.8"/><rect x="1408.5" y="158" width="2.3" height="11.8"/><rect x="1402.3" y="173.4" width="2.3" height="11"/><rect x="1410.0" y="173.4" width="2.3" height="11"/><circle cx="1423.9" cy="153" r="9.25"/><circle cx="1425.4" cy="189.3" r="9.25"/><rect x="1418.9" y="158" width="2.3" height="11.8"/><rect x="1426.6" y="158" width="2.3" height="11.8"/><rect x="1420.4" y="173.4" width="2.3" height="11"/><rect x="1428.1" y="173.4" width="2.3" height="11"/><circle cx="1442.1" cy="153" r="9.25"/><circle cx="1443.6" cy="189.3" r="9.25"/><rect x="1437.1" y="158" width="2.3" height="11.8"/><rect x="1444.8" y="158" width="2.3" height="11.8"/><rect x="1438.6" y="173.4" width="2.3" height="11"/><rect x="1446.3" y="173.4" width="2.3" height="11"/><circle cx="1460.2" cy="153" r="9.25"/><circle cx="1461.7" cy="189.3" r="9.25"/><rect x="1455.2" y="158" width="2.3" height="11.8"/><rect x="1462.9" y="158" width="2.3" height="11.8"/><rect x="1456.7" y="173.4" width="2.3" height="11"/><rect x="1464.4" y="173.4" width="2.3" height="11"/><circle cx="1478.4" cy="153" r="9.25"/><circle cx="1479.9" cy="189.3" r="9.25"/><rect x="1473.4" y="158" width="2.3" height="11.8"/><rect x="1481.1" y="158" width="2.3" height="11.8"/><rect x="1474.9" y="173.4" width="2.3" height="11"/><rect x="1482.6" y="173.4" width="2.3" height="11"/><circle cx="1496.5" cy="153" r="9.25"/><circle cx="1498.0" cy="189.3" r="9.25"/><rect x="1491.5" y="158" width="2.3" height="11.8"/><rect x="1499.2" y="158" width="2.3" height="11.8"/><rect x="1493.0" y="173.4" width="2.3" height="11"/><rect x="1500.7" y="173.4" width="2.3" height="11"/><circle cx="1514.6" cy="153" r="9.25"/><circle cx="1516.1" cy="189.3" r="9.25"/><rect x="1509.6" y="158" width="2.3" height="11.8"/><rect x="1517.3" y="158" width="2.3" height="11.8"/><rect x="1511.1" y="173.4" width="2.3" height="11"/><rect x="1518.8" y="173.4" width="2.3" height="11"/><circle cx="1532.8" cy="153" r="9.25"/><circle cx="1534.3" cy="189.3" r="9.25"/><rect x="1527.8" y="158" width="2.3" height="11.8"/><rect x="1535.5" y="158" width="2.3" height="11.8"/><rect x="1529.3" y="173.4" width="2.3" height="11"/><rect x="1537.0" y="173.4" width="2.3" height="11"/><circle cx="1550.9" cy="153" r="9.25"/><circle cx="1552.4" cy="189.3" r="9.25"/><rect x="1545.9" y="158" width="2.3" height="11.8"/><rect x="1553.6" y="158" width="2.3" height="11.8"/><rect x="1547.4" y="173.4" width="2.3" height="11"/><rect x="1555.1" y="173.4" width="2.3" height="11"/><circle cx="1569.1" cy="153" r="9.25"/><circle cx="1570.6" cy="189.3" r="9.25"/><rect x="1564.1" y="158" width="2.3" height="11.8"/><rect x="1571.8" y="158" width="2.3" height="11.8"/><rect x="1565.6" y="173.4" width="2.3" height="11"/><rect x="1573.3" y="173.4" width="2.3" height="11"/><circle cx="1587.2" cy="153" r="9.25"/><circle cx="1588.7" cy="189.3" r="9.25"/><rect x="1582.2" y="158" width="2.3" height="11.8"/><rect x="1589.9" y="158" width="2.3" height="11.8"/><rect x="1583.7" y="173.4" width="2.3" height="11"/><rect x="1591.4" y="173.4" width="2.3" height="11"/><circle cx="1605.4" cy="153" r="9.25"/><circle cx="1606.9" cy="189.3" r="9.25"/><rect x="1600.4" y="158" width="2.3" height="11.8"/><rect x="1608.1" y="158" width="2.3" height="11.8"/><rect x="1601.9" y="173.4" width="2.3" height="11"/><rect x="1609.6" y="173.4" width="2.3" height="11"/><circle cx="1623.5" cy="153" r="9.25"/><circle cx="1625.0" cy="189.3" r="9.25"/><rect x="1618.5" y="158" width="2.3" height="11.8"/><rect x="1626.2" y="158" width="2.3" height="11.8"/><rect x="1620.0" y="173.4" width="2.3" height="11"/><rect x="1627.7" y="173.4" width="2.3" height="11"/><circle cx="1641.7" cy="153" r="9.25"/><circle cx="1643.2" cy="189.3" r="9.25"/><rect x="1636.7" y="158" width="2.3" height="11.8"/><rect x="1644.4" y="158" width="2.3" height="11.8"/><rect x="1638.2" y="173.4" width="2.3" height="11"/><rect x="1645.9" y="173.4" width="2.3" height="11"/><circle cx="1659.8" cy="153" r="9.25"/><circle cx="1661.3" cy="189.3" r="9.25"/><rect x="1654.8" y="158" width="2.3" height="11.8"/><rect x="1662.5" y="158" width="2.3" height="11.8"/><rect x="1656.3" y="173.4" width="2.3" height="11"/><rect x="1664.0" y="173.4" width="2.3" height="11"/><circle cx="1678.0" cy="153" r="9.25"/><circle cx="1679.5" cy="189.3" r="9.25"/><rect x="1673.0" y="158" width="2.3" height="11.8"/><rect x="1680.7" y="158" width="2.3" height="11.8"/><rect x="1674.5" y="173.4" width="2.3" height="11"/><rect x="1682.2" y="173.4" width="2.3" height="11"/><circle cx="1696.1" cy="153" r="9.25"/><circle cx="1697.6" cy="189.3" r="9.25"/><rect x="1691.1" y="158" width="2.3" height="11.8"/><rect x="1698.8" y="158" width="2.3" height="11.8"/><rect x="1692.6" y="173.4" width="2.3" height="11"/><rect x="1700.3" y="173.4" width="2.3" height="11"/><circle cx="1714.2" cy="153" r="9.25"/><circle cx="1715.7" cy="189.3" r="9.25"/><rect x="1709.2" y="158" width="2.3" height="11.8"/><rect x="1716.9" y="158" width="2.3" height="11.8"/><rect x="1710.7" y="173.4" width="2.3" height="11"/><rect x="1718.4" y="173.4" width="2.3" height="11"/><circle cx="1732.4" cy="153" r="9.25"/><circle cx="1733.9" cy="189.3" r="9.25"/><rect x="1727.4" y="158" width="2.3" height="11.8"/><rect x="1735.1" y="158" width="2.3" height="11.8"/><rect x="1728.9" y="173.4" width="2.3" height="11"/><rect x="1736.6" y="173.4" width="2.3" height="11"/><circle cx="1750.5" cy="153" r="9.25"/><circle cx="1752.0" cy="189.3" r="9.25"/><rect x="1745.5" y="158" width="2.3" height="11.8"/><rect x="1753.2" y="158" width="2.3" height="11.8"/><rect x="1747.0" y="173.4" width="2.3" height="11"/><rect x="1754.7" y="173.4" width="2.3" height="11"/><circle cx="1768.7" cy="153" r="9.25"/><circle cx="1770.2" cy="189.3" r="9.25"/><rect x="1763.7" y="158" width="2.3" height="11.8"/><rect x="1771.4" y="158" width="2.3" height="11.8"/><rect x="1765.2" y="173.4" width="2.3" height="11"/><rect x="1772.9" y="173.4" width="2.3" height="11"/><circle cx="1786.8" cy="153" r="9.25"/><circle cx="1788.3" cy="189.3" r="9.25"/><rect x="1781.8" y="158" width="2.3" height="11.8"/><rect x="1789.5" y="158" width="2.3" height="11.8"/><rect x="1783.3" y="173.4" width="2.3" height="11"/><rect x="1791.0" y="173.4" width="2.3" height="11"/><circle cx="1805.0" cy="153" r="9.25"/><circle cx="1806.5" cy="189.3" r="9.25"/><rect x="1800.0" y="158" width="2.3" height="11.8"/><rect x="1807.7" y="158" width="2.3" height="11.8"/><rect x="1801.5" y="173.4" width="2.3" height="11"/><rect x="1809.2" y="173.4" width="2.3" height="11"/><circle cx="1823.1" cy="153" r="9.25"/><circle cx="1824.6" cy="189.3" r="9.25"/><rect x="1818.1" y="158" width="2.3" height="11.8"/><rect x="1825.8" y="158" width="2.3" height="11.8"/><rect x="1819.6" y="173.4" width="2.3" height="11"/><rect x="1827.3" y="173.4" width="2.3" height="11"/><circle cx="1841.3" cy="153" r="9.25"/><circle cx="1842.8" cy="189.3" r="9.25"/><rect x="1836.3" y="158" width="2.3" height="11.8"/><rect x="1844.0" y="158" width="2.3" height="11.8"/><rect x="1837.8" y="173.4" width="2.3" height="11"/><rect x="1845.5" y="173.4" width="2.3" height="11"/><circle cx="1859.4" cy="153" r="9.25"/><circle cx="1860.9" cy="189.3" r="9.25"/><rect x="1854.4" y="158" width="2.3" height="11.8"/><rect x="1862.1" y="158" width="2.3" height="11.8"/><rect x="1855.9" y="173.4" width="2.3" height="11"/><rect x="1863.6" y="173.4" width="2.3" height="11"/><circle cx="1877.5" cy="153" r="9.25"/><circle cx="1879.0" cy="189.3" r="9.25"/><rect x="1872.5" y="158" width="2.3" height="11.8"/><rect x="1880.2" y="158" width="2.3" height="11.8"/><rect x="1874.0" y="173.4" width="2.3" height="11"/><rect x="1881.7" y="173.4" width="2.3" height="11"/><circle cx="1895.7" cy="153" r="9.25"/><circle cx="1897.2" cy="189.3" r="9.25"/><rect x="1890.7" y="158" width="2.3" height="11.8"/><rect x="1898.4" y="158" width="2.3" height="11.8"/><rect x="1892.2" y="173.4" width="2.3" height="11"/><rect x="1899.9" y="173.4" width="2.3" height="11"/><circle cx="1913.8" cy="153" r="9.25"/><circle cx="1915.3" cy="189.3" r="9.25"/><rect x="1908.8" y="158" width="2.3" height="11.8"/><rect x="1916.5" y="158" width="2.3" height="11.8"/><rect x="1910.3" y="173.4" width="2.3" height="11"/><rect x="1918.0" y="173.4" width="2.3" height="11"/><circle cx="1932.0" cy="153" r="9.25"/><circle cx="1933.5" cy="189.3" r="9.25"/><rect x="1927.0" y="158" width="2.3" height="11.8"/><rect x="1934.7" y="158" width="2.3" height="11.8"/><rect x="1928.5" y="173.4" width="2.3" height="11"/><rect x="1936.2" y="173.4" width="2.3" height="11"/></g>
<rect x="1078" y="22" width="20" height="125" rx="10" fill="#f0e53f"/>
<rect x="1110.5" y="22" width="20" height="125" rx="10" fill="#f0e53f"/>
<rect x="1055" y="121" width="21" height="152" rx="10" fill="#6cba59"/>
<rect x="1130" y="121" width="21" height="152" rx="10" fill="#6cba59"/>
<rect x="1084.3" y="55.7" width="39" height="27" rx="13.5" fill="#f3a08e"/>
<g><rect x="219.4" y="137.7" width="13" height="69.6" fill="#fbc525"/><path d="M208.7,134.2 L217.7,134.2 Q221.7,134.2 221.7,138.2 C221.7,148.2 220.7,146.2 220.7,156.2 L220.7,188.8 C220.7,198.8 221.7,196.8 221.7,206.8 Q221.7,210.8 217.7,210.8 L208.7,210.8 Q198.7,210.8 198.7,200.8 C198.7,190.8 199.5,188.8 199.5,180.8 L199.5,164.2 C199.5,156.2 198.7,154.2 198.7,144.2 Q198.7,134.2 208.7,134.2 Z" fill="#f6e521"/><path d="M243.1,134.2 L234.1,134.2 Q230.1,134.2 230.1,138.2 C230.1,148.2 231.1,146.2 231.1,156.2 L231.1,188.8 C231.1,198.8 230.1,196.8 230.1,206.8 Q230.1,210.8 234.1,210.8 L243.1,210.8 Q253.1,210.8 253.1,200.8 C253.1,190.8 252.3,188.8 252.3,180.8 L252.3,164.2 C252.3,156.2 253.1,154.2 253.1,144.2 Q253.1,134.2 243.1,134.2 Z" fill="#f6e521"/></g>
<polygon points="191.2,74.8 181.6,84.8 168.2,81.4 164.4,68.2 174.0,58.2 187.4,61.6" fill="#87409a"/>
<polygon points="234.9,110.7 225.3,120.7 211.9,117.3 208.1,104.1 217.7,94.1 231.1,97.5" fill="#87409a"/>
<polygon points="244.6,237.6 235.0,247.6 221.6,244.2 217.8,231.0 227.4,221.0 240.8,224.4" fill="#87409a"/>
<polygon points="210.2,260.9 200.6,270.9 187.2,267.5 183.4,254.3 193.0,244.3 206.4,247.7" fill="#87409a"/>
<g fill="#5b9fd8" stroke="#5b9fd8"><circle cx="306.6" cy="541.1" r="9" stroke="none"/><line x1="300.8" y1="537.6" x2="291.3" y2="537.1" stroke-width="2"/><line x1="300.3" y1="543.4" x2="290.9" y2="542.3" stroke-width="2"/><circle cx="304.3" cy="554.8" r="9" stroke="none"/><line x1="299.1" y1="550.5" x2="289.8" y2="548.6" stroke-width="2"/><line x1="297.7" y1="556.2" x2="288.6" y2="553.6" stroke-width="2"/><circle cx="299.8" cy="568.1" r="9" stroke="none"/><line x1="295.4" y1="563.0" x2="286.5" y2="559.6" stroke-width="2"/><line x1="293.1" y1="568.4" x2="284.5" y2="564.4" stroke-width="2"/><circle cx="293.4" cy="580.5" r="9" stroke="none"/><line x1="289.8" y1="574.8" x2="281.6" y2="570.0" stroke-width="2"/><line x1="286.7" y1="579.7" x2="278.8" y2="574.4" stroke-width="2"/><circle cx="285.1" cy="591.7" r="9" stroke="none"/><line x1="282.4" y1="585.5" x2="275.0" y2="579.5" stroke-width="2"/><line x1="278.6" y1="589.9" x2="271.6" y2="583.4" stroke-width="2"/><circle cx="275.1" cy="601.5" r="9" stroke="none"/><line x1="273.4" y1="595.0" x2="267.1" y2="587.9" stroke-width="2"/><line x1="269.0" y1="598.7" x2="263.1" y2="591.2" stroke-width="2"/><circle cx="263.7" cy="609.6" r="9" stroke="none"/><line x1="263.1" y1="602.9" x2="257.9" y2="594.9" stroke-width="2"/><line x1="258.1" y1="605.9" x2="253.5" y2="597.6" stroke-width="2"/><circle cx="251.2" cy="615.8" r="9" stroke="none"/><line x1="251.7" y1="609.1" x2="247.8" y2="600.4" stroke-width="2"/><line x1="246.3" y1="611.3" x2="243.0" y2="602.4" stroke-width="2"/><circle cx="237.9" cy="620.0" r="9" stroke="none"/><line x1="239.4" y1="613.5" x2="236.9" y2="604.3" stroke-width="2"/><line x1="233.7" y1="614.8" x2="231.9" y2="605.5" stroke-width="2"/><circle cx="224.1" cy="622.1" r="9" stroke="none"/><line x1="226.6" y1="615.8" x2="225.6" y2="606.4" stroke-width="2"/><line x1="220.8" y1="616.2" x2="220.5" y2="606.8" stroke-width="2"/><circle cx="210.1" cy="622.0" r="9" stroke="none"/><line x1="213.6" y1="616.2" x2="214.1" y2="606.7" stroke-width="2"/><line x1="207.8" y1="615.7" x2="208.9" y2="606.3" stroke-width="2"/><circle cx="196.4" cy="619.7" r="9" stroke="none"/><line x1="200.7" y1="614.5" x2="202.6" y2="605.2" stroke-width="2"/><line x1="195.0" y1="613.1" x2="197.6" y2="604.0" stroke-width="2"/><circle cx="183.1" cy="615.2" r="9" stroke="none"/><line x1="188.2" y1="610.8" x2="191.6" y2="601.9" stroke-width="2"/><line x1="182.8" y1="608.5" x2="186.8" y2="599.9" stroke-width="2"/><circle cx="170.7" cy="608.8" r="9" stroke="none"/><line x1="176.4" y1="605.2" x2="181.2" y2="597.0" stroke-width="2"/><line x1="171.5" y1="602.1" x2="176.8" y2="594.2" stroke-width="2"/><circle cx="159.5" cy="600.5" r="9" stroke="none"/><line x1="165.7" y1="597.8" x2="171.7" y2="590.4" stroke-width="2"/><line x1="161.3" y1="594.0" x2="167.8" y2="587.0" stroke-width="2"/><circle cx="149.7" cy="590.5" r="9" stroke="none"/><line x1="156.2" y1="588.8" x2="163.3" y2="582.5" stroke-width="2"/><line x1="152.5" y1="584.4" x2="160.0" y2="578.5" stroke-width="2"/><circle cx="141.6" cy="579.1" r="9" stroke="none"/><line x1="148.3" y1="578.5" x2="156.3" y2="573.3" stroke-width="2"/><line x1="145.3" y1="573.5" x2="153.6" y2="568.9" stroke-width="2"/><circle cx="135.4" cy="566.6" r="9" stroke="none"/><line x1="142.1" y1="567.1" x2="150.8" y2="563.2" stroke-width="2"/><line x1="139.9" y1="561.7" x2="148.8" y2="558.4" stroke-width="2"/><circle cx="131.2" cy="553.3" r="9" stroke="none"/><line x1="137.7" y1="554.8" x2="146.9" y2="552.3" stroke-width="2"/><line x1="136.4" y1="549.1" x2="145.7" y2="547.3" stroke-width="2"/><circle cx="129.1" cy="539.5" r="9" stroke="none"/><line x1="135.4" y1="542.0" x2="144.8" y2="541.0" stroke-width="2"/><line x1="135.0" y1="536.2" x2="144.4" y2="535.9" stroke-width="2"/><circle cx="129.2" cy="525.5" r="9" stroke="none"/><line x1="135.0" y1="529.0" x2="144.5" y2="529.5" stroke-width="2"/><line x1="135.5" y1="523.2" x2="144.9" y2="524.3" stroke-width="2"/><circle cx="131.5" cy="511.8" r="9" stroke="none"/><line x1="136.7" y1="516.1" x2="146.0" y2="518.0" stroke-width="2"/><line x1="138.1" y1="510.4" x2="147.2" y2="513.0" stroke-width="2"/><circle cx="136.0" cy="498.5" r="9" stroke="none"/><line x1="140.4" y1="503.6" x2="149.3" y2="507.0" stroke-width="2"/><line x1="142.7" y1="498.2" x2="151.3" y2="502.2" stroke-width="2"/><circle cx="142.4" cy="486.1" r="9" stroke="none"/><line x1="146.0" y1="491.8" x2="154.2" y2="496.6" stroke-width="2"/><line x1="149.1" y1="486.9" x2="157.0" y2="492.2" stroke-width="2"/><circle cx="150.7" cy="474.9" r="9" stroke="none"/><line x1="153.4" y1="481.1" x2="160.8" y2="487.1" stroke-width="2"/><line x1="157.2" y1="476.7" x2="164.2" y2="483.2" stroke-width="2"/><circle cx="160.7" cy="465.1" r="9" stroke="none"/><line x1="162.4" y1="471.6" x2="168.7" y2="478.7" stroke-width="2"/><line x1="166.8" y1="467.9" x2="172.7" y2="475.4" stroke-width="2"/><circle cx="172.1" cy="457.0" r="9" stroke="none"/><line x1="172.7" y1="463.7" x2="177.9" y2="471.7" stroke-width="2"/><line x1="177.7" y1="460.7" x2="182.3" y2="469.0" stroke-width="2"/><circle cx="184.6" cy="450.8" r="9" stroke="none"/><line x1="184.1" y1="457.5" x2="188.0" y2="466.2" stroke-width="2"/><line x1="189.5" y1="455.3" x2="192.8" y2="464.2" stroke-width="2"/><circle cx="197.9" cy="446.6" r="9" stroke="none"/><line x1="196.4" y1="453.1" x2="198.9" y2="462.3" stroke-width="2"/><line x1="202.1" y1="451.8" x2="203.9" y2="461.1" stroke-width="2"/><circle cx="211.7" cy="444.5" r="9" stroke="none"/><line x1="209.2" y1="450.8" x2="210.2" y2="460.2" stroke-width="2"/><line x1="215.0" y1="450.4" x2="215.3" y2="459.8" stroke-width="2"/><circle cx="225.7" cy="444.6" r="9" stroke="none"/><line x1="222.2" y1="450.4" x2="221.7" y2="459.9" stroke-width="2"/><line x1="228.0" y1="450.9" x2="226.9" y2="460.3" stroke-width="2"/><circle cx="239.4" cy="446.9" r="9" stroke="none"/><line x1="235.1" y1="452.1" x2="233.2" y2="461.4" stroke-width="2"/><line x1="240.8" y1="453.5" x2="238.2" y2="462.6" stroke-width="2"/><circle cx="252.7" cy="451.4" r="9" stroke="none"/><line x1="247.6" y1="455.8" x2="244.2" y2="464.7" stroke-width="2"/><line x1="253.0" y1="458.1" x2="249.0" y2="466.7" stroke-width="2"/><circle cx="265.1" cy="457.8" r="9" stroke="none"/><line x1="259.4" y1="461.4" x2="254.6" y2="469.6" stroke-width="2"/><line x1="264.3" y1="464.5" x2="259.0" y2="472.4" stroke-width="2"/><circle cx="276.3" cy="466.1" r="9" stroke="none"/><line x1="270.1" y1="468.8" x2="264.1" y2="476.2" stroke-width="2"/><line x1="274.5" y1="472.6" x2="268.0" y2="479.6" stroke-width="2"/><circle cx="286.1" cy="476.1" r="9" stroke="none"/><line x1="279.6" y1="477.8" x2="272.5" y2="484.1" stroke-width="2"/><line x1="283.3" y1="482.2" x2="275.8" y2="488.1" stroke-width="2"/><circle cx="294.2" cy="487.5" r="9" stroke="none"/><line x1="287.5" y1="488.1" x2="279.5" y2="493.3" stroke-width="2"/><line x1="290.5" y1="493.1" x2="282.2" y2="497.7" stroke-width="2"/><circle cx="300.4" cy="500.0" r="9" stroke="none"/><line x1="293.7" y1="499.5" x2="285.0" y2="503.4" stroke-width="2"/><line x1="295.9" y1="504.9" x2="287.0" y2="508.2" stroke-width="2"/><circle cx="304.6" cy="513.3" r="9" stroke="none"/><line x1="298.1" y1="511.8" x2="288.9" y2="514.3" stroke-width="2"/><line x1="299.4" y1="517.5" x2="290.1" y2="519.3" stroke-width="2"/><circle cx="306.7" cy="527.1" r="9" stroke="none"/><line x1="300.4" y1="524.6" x2="291.0" y2="525.6" stroke-width="2"/><line x1="300.8" y1="530.4" x2="291.4" y2="530.7" stroke-width="2"/><circle cx="271.2" cy="541.7" r="8" stroke="none"/><line x1="281.1" y1="539.5" x2="288.1" y2="540.1" stroke-width="2"/><line x1="279.9" y1="547.0" x2="286.7" y2="548.5" stroke-width="2"/><circle cx="266.0" cy="557.8" r="8" stroke="none"/><line x1="276.1" y1="558.7" x2="282.5" y2="561.5" stroke-width="2"/><line x1="272.6" y1="565.5" x2="278.7" y2="569.0" stroke-width="2"/><circle cx="256.1" cy="571.5" r="8" stroke="none"/><line x1="265.4" y1="575.4" x2="270.7" y2="580.1" stroke-width="2"/><line x1="260.0" y1="580.8" x2="264.7" y2="586.1" stroke-width="2"/><circle cx="242.4" cy="581.4" r="8" stroke="none"/><line x1="250.1" y1="588.0" x2="253.6" y2="594.1" stroke-width="2"/><line x1="243.3" y1="591.5" x2="246.1" y2="597.9" stroke-width="2"/><circle cx="226.3" cy="586.6" r="8" stroke="none"/><line x1="231.6" y1="595.3" x2="233.1" y2="602.1" stroke-width="2"/><line x1="224.1" y1="596.5" x2="224.7" y2="603.5" stroke-width="2"/><circle cx="209.5" cy="586.6" r="8" stroke="none"/><line x1="211.7" y1="596.5" x2="211.1" y2="603.5" stroke-width="2"/><line x1="204.2" y1="595.3" x2="202.7" y2="602.1" stroke-width="2"/><circle cx="193.4" cy="581.4" r="8" stroke="none"/><line x1="192.5" y1="591.5" x2="189.7" y2="597.9" stroke-width="2"/><line x1="185.7" y1="588.0" x2="182.2" y2="594.1" stroke-width="2"/><circle cx="179.7" cy="571.5" r="8" stroke="none"/><line x1="175.8" y1="580.8" x2="171.1" y2="586.1" stroke-width="2"/><line x1="170.4" y1="575.4" x2="165.1" y2="580.1" stroke-width="2"/><circle cx="169.8" cy="557.8" r="8" stroke="none"/><line x1="163.2" y1="565.5" x2="157.1" y2="569.0" stroke-width="2"/><line x1="159.7" y1="558.7" x2="153.3" y2="561.5" stroke-width="2"/><circle cx="164.6" cy="541.7" r="8" stroke="none"/><line x1="155.9" y1="547.0" x2="149.1" y2="548.5" stroke-width="2"/><line x1="154.7" y1="539.5" x2="147.7" y2="540.1" stroke-width="2"/><circle cx="164.6" cy="524.9" r="8" stroke="none"/><line x1="154.7" y1="527.1" x2="147.7" y2="526.5" stroke-width="2"/><line x1="155.9" y1="519.6" x2="149.1" y2="518.1" stroke-width="2"/><circle cx="169.8" cy="508.8" r="8" stroke="none"/><line x1="159.7" y1="507.9" x2="153.3" y2="505.1" stroke-width="2"/><line x1="163.2" y1="501.1" x2="157.1" y2="497.6" stroke-width="2"/><circle cx="179.7" cy="495.1" r="8" stroke="none"/><line x1="170.4" y1="491.2" x2="165.1" y2="486.5" stroke-width="2"/><line x1="175.8" y1="485.8" x2="171.1" y2="480.5" stroke-width="2"/><circle cx="193.4" cy="485.2" r="8" stroke="none"/><line x1="185.7" y1="478.6" x2="182.2" y2="472.5" stroke-width="2"/><line x1="192.5" y1="475.1" x2="189.7" y2="468.7" stroke-width="2"/><circle cx="209.5" cy="480.0" r="8" stroke="none"/><line x1="204.2" y1="471.3" x2="202.7" y2="464.5" stroke-width="2"/><line x1="211.7" y1="470.1" x2="211.1" y2="463.1" stroke-width="2"/><circle cx="226.3" cy="480.0" r="8" stroke="none"/><line x1="224.1" y1="470.1" x2="224.7" y2="463.1" stroke-width="2"/><line x1="231.6" y1="471.3" x2="233.1" y2="464.5" stroke-width="2"/><circle cx="242.4" cy="485.2" r="8" stroke="none"/><line x1="243.3" y1="475.1" x2="246.1" y2="468.7" stroke-width="2"/><line x1="250.1" y1="478.6" x2="253.6" y2="472.5" stroke-width="2"/><circle cx="256.1" cy="495.1" r="8" stroke="none"/><line x1="260.0" y1="485.8" x2="264.7" y2="480.5" stroke-width="2"/><line x1="265.4" y1="491.2" x2="270.7" y2="486.5" stroke-width="2"/><circle cx="266.0" cy="508.8" r="8" stroke="none"/><line x1="272.6" y1="501.1" x2="278.7" y2="497.6" stroke-width="2"/><line x1="276.1" y1="507.9" x2="282.5" y2="505.1" stroke-width="2"/><circle cx="271.2" cy="524.9" r="8" stroke="none"/><line x1="279.9" y1="519.6" x2="286.7" y2="518.1" stroke-width="2"/><line x1="281.1" y1="527.1" x2="288.1" y2="526.5" stroke-width="2"/></g>
<circle cx="217.9" cy="533.3" r="45.5" fill="#fff"/>
<g><rect x="211.4" y="430.6" width="13" height="69.3" fill="#fbc525"/><path d="M202.7,427.1 L209.7,427.1 Q213.7,427.1 213.7,431.1 C213.7,441.1 212.7,439.1 212.7,449.1 L212.7,481.4 C212.7,491.4 213.7,489.4 213.7,499.4 Q213.7,503.4 209.7,503.4 L202.7,503.4 Q192.7,503.4 192.7,493.4 C192.7,483.4 193.5,481.4 193.5,473.4 L193.5,457.1 C193.5,449.1 192.7,447.1 192.7,437.1 Q192.7,427.1 202.7,427.1 Z" fill="#f6e521"/><path d="M233.1,427.1 L226.1,427.1 Q222.1,427.1 222.1,431.1 C222.1,441.1 223.1,439.1 223.1,449.1 L223.1,481.4 C223.1,491.4 222.1,489.4 222.1,499.4 Q222.1,503.4 226.1,503.4 L233.1,503.4 Q243.1,503.4 243.1,493.4 C243.1,483.4 242.3,481.4 242.3,473.4 L242.3,457.1 C242.3,449.1 243.1,447.1 243.1,437.1 Q243.1,427.1 233.1,427.1 Z" fill="#f6e521"/></g>
<g><rect x="212.3" y="566.9" width="13" height="69.2" fill="#fbc525"/><path d="M204.1,563.4 L210.6,563.4 Q214.6,563.4 214.6,567.4 C214.6,577.4 213.6,575.4 213.6,585.4 L213.6,617.6 C213.6,627.6 214.6,625.6 214.6,635.6 Q214.6,639.6 210.6,639.6 L204.1,639.6 Q194.1,639.6 194.1,629.6 C194.1,619.6 194.9,617.6 194.9,609.6 L194.9,593.4 C194.9,585.4 194.1,583.4 194.1,573.4 Q194.1,563.4 204.1,563.4 Z" fill="#f6e521"/><path d="M233.6,563.4 L227.0,563.4 Q223.0,563.4 223.0,567.4 C223.0,577.4 224.0,575.4 224.0,585.4 L224.0,617.6 C224.0,627.6 223.0,625.6 223.0,635.6 Q223.0,639.6 227.0,639.6 L233.6,639.6 Q243.6,639.6 243.6,629.6 C243.6,619.6 242.8,617.6 242.8,609.6 L242.8,593.4 C242.8,585.4 243.6,583.4 243.6,573.4 Q243.6,563.4 233.6,563.4 Z" fill="#f6e521"/></g>
<g transform="rotate(90 154.2 533.2)"><rect x="147.7" y="498.6" width="13" height="69.3" fill="#fbc525"/><path d="M139.3,495.1 L146.0,495.1 Q150.0,495.1 150.0,499.1 C150.0,509.1 149.0,507.1 149.0,517.1 L149.0,549.4 C149.0,559.4 150.0,557.4 150.0,567.4 Q150.0,571.4 146.0,571.4 L139.3,571.4 Q129.3,571.4 129.3,561.4 C129.3,551.4 130.1,549.4 130.1,541.4 L130.1,525.1 C130.1,517.1 129.3,515.1 129.3,505.1 Q129.3,495.1 139.3,495.1 Z" fill="#f6e521"/><path d="M169.1,495.1 L162.4,495.1 Q158.4,495.1 158.4,499.1 C158.4,509.1 159.4,507.1 159.4,517.1 L159.4,549.4 C159.4,559.4 158.4,557.4 158.4,567.4 Q158.4,571.4 162.4,571.4 L169.1,571.4 Q179.1,571.4 179.1,561.4 C179.1,551.4 178.3,549.4 178.3,541.4 L178.3,525.1 C178.3,517.1 179.1,515.1 179.1,505.1 Q179.1,495.1 169.1,495.1 Z" fill="#f6e521"/></g>
<g transform="rotate(90 281.6 533.2)"><rect x="275.1" y="498.6" width="13" height="69.3" fill="#fbc525"/><path d="M266.7,495.1 L273.4,495.1 Q277.4,495.1 277.4,499.1 C277.4,509.1 276.4,507.1 276.4,517.1 L276.4,549.4 C276.4,559.4 277.4,557.4 277.4,567.4 Q277.4,571.4 273.4,571.4 L266.7,571.4 Q256.7,571.4 256.7,561.4 C256.7,551.4 257.5,549.4 257.5,541.4 L257.5,525.1 C257.5,517.1 256.7,515.1 256.7,505.1 Q256.7,495.1 266.7,495.1 Z" fill="#f6e521"/><path d="M296.5,495.1 L289.8,495.1 Q285.8,495.1 285.8,499.1 C285.8,509.1 286.8,507.1 286.8,517.1 L286.8,549.4 C286.8,559.4 285.8,557.4 285.8,567.4 Q285.8,571.4 289.8,571.4 L296.5,571.4 Q306.5,571.4 306.5,561.4 C306.5,551.4 305.7,549.4 305.7,541.4 L305.7,525.1 C305.7,517.1 306.5,515.1 306.5,505.1 Q306.5,495.1 296.5,495.1 Z" fill="#f6e521"/></g>
<polygon points="130.8,1054.0 123.9,1066.0 110.0,1066.0 103.0,1054.0 110.0,1042.0 123.9,1042.0" fill="#87409a"/>
<polygon points="158.4,1054.0 151.4,1066.0 137.6,1066.0 130.6,1054.0 137.5,1042.0 151.4,1042.0" fill="#87409a"/>
<polygon points="185.7,1054.0 178.8,1066.0 164.9,1066.0 157.9,1054.0 164.8,1042.0 178.8,1042.0" fill="#87409a"/>
<polygon points="213.3,1054.0 206.3,1066.0 192.5,1066.0 185.5,1054.0 192.4,1042.0 206.3,1042.0" fill="#87409a"/>
<polygon points="240.7,1054.0 233.8,1066.0 219.9,1066.0 212.9,1054.0 219.8,1042.0 233.8,1042.0" fill="#87409a"/>
<polygon points="268.0,1054.0 261.1,1066.0 247.2,1066.0 240.2,1054.0 247.1,1042.0 261.1,1042.0" fill="#87409a"/>
<polygon points="295.6,1054.0 288.6,1066.0 274.8,1066.0 267.8,1054.0 274.8,1042.0 288.6,1042.0" fill="#87409a"/>
<polygon points="134.5,985.3 122.5,992.2 110.5,985.3 110.5,971.5 122.5,964.6 134.5,971.5" fill="#87409a"/>
<polygon points="158.7,1000.4 146.7,1007.3 134.7,1000.4 134.7,986.6 146.7,979.7 158.7,986.6" fill="#87409a"/>
<polygon points="182.9,1015.4 170.9,1022.3 158.9,1015.4 158.9,1001.6 170.9,994.7 182.9,1001.6" fill="#87409a"/>
<polygon points="206.7,1031.1 194.7,1038.0 182.7,1031.1 182.7,1017.3 194.7,1010.4 206.7,1017.3" fill="#87409a"/>
<line x1="205" y1="1031.5" x2="221" y2="1042.5" stroke="#87409a" stroke-width="2.2"/>
<polygon points="259.5,925.4 252.5,937.4 238.7,937.4 231.7,925.4 238.6,913.4 252.5,913.4" fill="#87409a"/>
<rect x="1315.6" y="310.6" width="618.9" height="410.4" rx="39" fill="none" stroke="#6b1f5f" stroke-width="2.3"/>
<path d="M1386.5,356.7 L1497,356.7 L1511.5,368.9 L1623.9,368.9" fill="none" stroke="#b8a5d6" stroke-width="3.2" stroke-linecap="round" stroke-linejoin="round"/>
<path d="M1511.5,368.9 L1497,380.4" fill="none" stroke="#b8a5d6" stroke-width="3.2" stroke-linecap="round" stroke-linejoin="round"/>
<path d="M1386.5,380.4 L1497,380.4 L1511.5,392.6 L1623.9,392.6" fill="none" stroke="#b8a5d6" stroke-width="3.2" stroke-linecap="round" stroke-linejoin="round"/>
<path d="M1511.5,392.6 L1497,407.8" fill="none" stroke="#b8a5d6" stroke-width="3.2" stroke-linecap="round" stroke-linejoin="round"/>
<path d="M1386.5,407.8 L1497,407.8 L1511.5,420 L1623.9,420" fill="none" stroke="#b8a5d6" stroke-width="3.2" stroke-linecap="round" stroke-linejoin="round"/>
<path d="M1511.5,420 L1497,435.4" fill="none" stroke="#b8a5d6" stroke-width="3.2" stroke-linecap="round" stroke-linejoin="round"/>
<path d="M1386.5,435.4 L1497,435.4 L1511.5,447.2 L1623.9,447.2" fill="none" stroke="#b8a5d6" stroke-width="3.2" stroke-linecap="round" stroke-linejoin="round"/>
<path d="M1511.5,447.2 L1493.5,463.2" fill="none" stroke="#b8a5d6" stroke-width="3.2" stroke-linecap="round" stroke-linejoin="round"/>
<path d="M1758.4,367.1 L1777.2,352.4" fill="none" stroke="#b8a5d6" stroke-width="3.2" stroke-linecap="round" stroke-linejoin="round"/>
<path d="M1648.5,367.1 L1758.4,367.1 L1774.7,379.3 L1885.9,379.3" fill="none" stroke="#b8a5d6" stroke-width="3.2" stroke-linecap="round" stroke-linejoin="round"/>
<path d="M1774.7,379.3 L1758.4,394.5" fill="none" stroke="#b8a5d6" stroke-width="3.2" stroke-linecap="round" stroke-linejoin="round"/>
<path d="M1648.5,394.5 L1758.4,394.5 L1774.7,406.5 L1885.9,406.5" fill="none" stroke="#b8a5d6" stroke-width="3.2" stroke-linecap="round" stroke-linejoin="round"/>
<path d="M1774.7,406.5 L1758.4,421.8" fill="none" stroke="#b8a5d6" stroke-width="3.2" stroke-linecap="round" stroke-linejoin="round"/>
<path d="M1648.5,421.8 L1758.4,421.8 L1774.7,433.6 L1885.9,433.6" fill="none" stroke="#b8a5d6" stroke-width="3.2" stroke-linecap="round" stroke-linejoin="round"/>
<path d="M1774.7,433.6 L1758.4,445.8" fill="none" stroke="#b8a5d6" stroke-width="3.2" stroke-linecap="round" stroke-linejoin="round"/>
<path d="M1648.5,445.8 L1758.4,445.8 L1774.7,458 L1885.9,458" fill="none" stroke="#b8a5d6" stroke-width="3.2" stroke-linecap="round" stroke-linejoin="round"/>
<line x1="1379.9" y1="368.9" x2="1476.6" y2="368.9" stroke="#f08ba4" stroke-width="7.8" stroke-linecap="round"/>
<path d="M1419.7,368.9 L1419.7,361.7 M1431.5,368.9 L1431.5,361.7 M1443.4,368.9 L1443.4,361.7 M1455.2,368.9 L1455.2,361.7 M1467.1,368.9 L1467.1,361.7 M1427.2,368.9 L1427.2,376.09999999999997 M1439.0,368.9 L1439.0,376.09999999999997 M1450.9,368.9 L1450.9,376.09999999999997 M1462.8,368.9 L1462.8,376.09999999999997 M1474.6,368.9 L1474.6,376.09999999999997 " fill="none" stroke="#f08ba4" stroke-width="3.7" stroke-linecap="round"/>
<line x1="1379.9" y1="395.2" x2="1476.6" y2="395.2" stroke="#f08ba4" stroke-width="7.8" stroke-linecap="round"/>
<path d="M1419.7,395.2 L1419.7,388.0 M1431.5,395.2 L1431.5,388.0 M1443.4,395.2 L1443.4,388.0 M1455.2,395.2 L1455.2,388.0 M1467.1,395.2 L1467.1,388.0 M1427.2,395.2 L1427.2,402.4 M1439.0,395.2 L1439.0,402.4 M1450.9,395.2 L1450.9,402.4 M1462.8,395.2 L1462.8,402.4 M1474.6,395.2 L1474.6,402.4 " fill="none" stroke="#f08ba4" stroke-width="3.7" stroke-linecap="round"/>
<line x1="1379.9" y1="421.1" x2="1476.6" y2="421.1" stroke="#f08ba4" stroke-width="7.8" stroke-linecap="round"/>
<path d="M1419.7,421.1 L1419.7,413.90000000000003 M1431.5,421.1 L1431.5,413.90000000000003 M1443.4,421.1 L1443.4,413.90000000000003 M1455.2,421.1 L1455.2,413.90000000000003 M1467.1,421.1 L1467.1,413.90000000000003 M1427.2,421.1 L1427.2,428.3 M1439.0,421.1 L1439.0,428.3 M1450.9,421.1 L1450.9,428.3 M1462.8,421.1 L1462.8,428.3 M1474.6,421.1 L1474.6,428.3 " fill="none" stroke="#f08ba4" stroke-width="3.7" stroke-linecap="round"/>
<line x1="1379.9" y1="452.3" x2="1476.6" y2="452.3" stroke="#f08ba4" stroke-width="7.8" stroke-linecap="round"/>
<path d="M1419.7,452.3 L1419.7,445.1 M1431.5,452.3 L1431.5,445.1 M1443.4,452.3 L1443.4,445.1 M1455.2,452.3 L1455.2,445.1 M1467.1,452.3 L1467.1,445.1 M1427.2,452.3 L1427.2,459.5 M1439.0,452.3 L1439.0,459.5 M1450.9,452.3 L1450.9,459.5 M1462.8,452.3 L1462.8,459.5 M1474.6,452.3 L1474.6,459.5 " fill="none" stroke="#f08ba4" stroke-width="3.7" stroke-linecap="round"/>
<line x1="1537.6" y1="354.9" x2="1724.6" y2="354.9" stroke="#f08ba4" stroke-width="7.8" stroke-linecap="round"/>
<path d="M1551.3,354.9 L1551.3,347.7 M1563.0,354.9 L1563.0,347.7 M1574.8,354.9 L1574.8,347.7 M1586.5,354.9 L1586.5,347.7 M1598.3,354.9 L1598.3,347.7 M1667.8,354.9 L1667.8,347.7 M1679.7,354.9 L1679.7,347.7 M1691.6,354.9 L1691.6,347.7 M1703.5,354.9 L1703.5,347.7 M1715.4,354.9 L1715.4,347.7 M1543.3,354.9 L1543.3,362.09999999999997 M1555.0,354.9 L1555.0,362.09999999999997 M1566.8,354.9 L1566.8,362.09999999999997 M1578.5,354.9 L1578.5,362.09999999999997 M1590.3,354.9 L1590.3,362.09999999999997 M1675.6,354.9 L1675.6,362.09999999999997 M1687.5,354.9 L1687.5,362.09999999999997 M1699.4,354.9 L1699.4,362.09999999999997 M1711.3,354.9 L1711.3,362.09999999999997 M1723.2,354.9 L1723.2,362.09999999999997 " fill="none" stroke="#f08ba4" stroke-width="3.7" stroke-linecap="round"/>
<line x1="1537.6" y1="381.4" x2="1724.6" y2="381.4" stroke="#f08ba4" stroke-width="7.8" stroke-linecap="round"/>
<path d="M1551.3,381.4 L1551.3,374.2 M1563.0,381.4 L1563.0,374.2 M1574.8,381.4 L1574.8,374.2 M1586.5,381.4 L1586.5,374.2 M1598.3,381.4 L1598.3,374.2 M1667.8,381.4 L1667.8,374.2 M1679.7,381.4 L1679.7,374.2 M1691.6,381.4 L1691.6,374.2 M1703.5,381.4 L1703.5,374.2 M1715.4,381.4 L1715.4,374.2 M1543.3,381.4 L1543.3,388.59999999999997 M1555.0,381.4 L1555.0,388.59999999999997 M1566.8,381.4 L1566.8,388.59999999999997 M1578.5,381.4 L1578.5,388.59999999999997 M1590.3,381.4 L1590.3,388.59999999999997 M1675.6,381.4 L1675.6,388.59999999999997 M1687.5,381.4 L1687.5,388.59999999999997 M1699.4,381.4 L1699.4,388.59999999999997 M1711.3,381.4 L1711.3,388.59999999999997 M1723.2,381.4 L1723.2,388.59999999999997 " fill="none" stroke="#f08ba4" stroke-width="3.7" stroke-linecap="round"/>
<line x1="1537.6" y1="408.5" x2="1724.6" y2="408.5" stroke="#f08ba4" stroke-width="7.8" stroke-linecap="round"/>
<path d="M1551.3,408.5 L1551.3,401.3 M1563.0,408.5 L1563.0,401.3 M1574.8,408.5 L1574.8,401.3 M1586.5,408.5 L1586.5,401.3 M1598.3,408.5 L1598.3,401.3 M1667.8,408.5 L1667.8,401.3 M1679.7,408.5 L1679.7,401.3 M1691.6,408.5 L1691.6,401.3 M1703.5,408.5 L1703.5,401.3 M1715.4,408.5 L1715.4,401.3 M1543.3,408.5 L1543.3,415.7 M1555.0,408.5 L1555.0,415.7 M1566.8,408.5 L1566.8,415.7 M1578.5,408.5 L1578.5,415.7 M1590.3,408.5 L1590.3,415.7 M1675.6,408.5 L1675.6,415.7 M1687.5,408.5 L1687.5,415.7 M1699.4,408.5 L1699.4,415.7 M1711.3,408.5 L1711.3,415.7 M1723.2,408.5 L1723.2,415.7 " fill="none" stroke="#f08ba4" stroke-width="3.7" stroke-linecap="round"/>
<line x1="1537.6" y1="435" x2="1724.6" y2="435" stroke="#f08ba4" stroke-width="7.8" stroke-linecap="round"/>
<path d="M1551.3,435 L1551.3,427.8 M1563.0,435 L1563.0,427.8 M1574.8,435 L1574.8,427.8 M1586.5,435 L1586.5,427.8 M1598.3,435 L1598.3,427.8 M1667.8,435 L1667.8,427.8 M1679.7,435 L1679.7,427.8 M1691.6,435 L1691.6,427.8 M1703.5,435 L1703.5,427.8 M1715.4,435 L1715.4,427.8 M1543.3,435 L1543.3,442.2 M1555.0,435 L1555.0,442.2 M1566.8,435 L1566.8,442.2 M1578.5,435 L1578.5,442.2 M1590.3,435 L1590.3,442.2 M1675.6,435 L1675.6,442.2 M1687.5,435 L1687.5,442.2 M1699.4,435 L1699.4,442.2 M1711.3,435 L1711.3,442.2 M1723.2,435 L1723.2,442.2 " fill="none" stroke="#f08ba4" stroke-width="3.7" stroke-linecap="round"/>
<line x1="1537.6" y1="463.8" x2="1724.6" y2="463.8" stroke="#f08ba4" stroke-width="7.8" stroke-linecap="round"/>
<path d="M1551.3,463.8 L1551.3,456.6 M1563.0,463.8 L1563.0,456.6 M1574.8,463.8 L1574.8,456.6 M1586.5,463.8 L1586.5,456.6 M1598.3,463.8 L1598.3,456.6 M1667.8,463.8 L1667.8,456.6 M1679.7,463.8 L1679.7,456.6 M1691.6,463.8 L1691.6,456.6 M1703.5,463.8 L1703.5,456.6 M1715.4,463.8 L1715.4,456.6 M1543.3,463.8 L1543.3,471.0 M1555.0,463.8 L1555.0,471.0 M1566.8,463.8 L1566.8,471.0 M1578.5,463.8 L1578.5,471.0 M1590.3,463.8 L1590.3,471.0 M1675.6,463.8 L1675.6,471.0 M1687.5,463.8 L1687.5,471.0 M1699.4,463.8 L1699.4,471.0 M1711.3,463.8 L1711.3,471.0 M1723.2,463.8 L1723.2,471.0 " fill="none" stroke="#f08ba4" stroke-width="3.7" stroke-linecap="round"/>
<line x1="1779.2" y1="362.8" x2="1875.9" y2="362.8" stroke="#f08ba4" stroke-width="7.8" stroke-linecap="round"/>
<path d="M1788.2,362.8 L1788.2,355.6 M1800.1,362.8 L1800.1,355.6 M1812.0,362.8 L1812.0,355.6 M1823.9,362.8 L1823.9,355.6 M1835.8,362.8 L1835.8,355.6 M1780.8,362.8 L1780.8,370.0 M1792.7,362.8 L1792.7,370.0 M1804.6,362.8 L1804.6,370.0 M1816.5,362.8 L1816.5,370.0 M1828.4,362.8 L1828.4,370.0 " fill="none" stroke="#f08ba4" stroke-width="3.7" stroke-linecap="round"/>
<line x1="1779.2" y1="389.5" x2="1875.9" y2="389.5" stroke="#f08ba4" stroke-width="7.8" stroke-linecap="round"/>
<path d="M1788.2,389.5 L1788.2,382.3 M1800.1,389.5 L1800.1,382.3 M1812.0,389.5 L1812.0,382.3 M1823.9,389.5 L1823.9,382.3 M1835.8,389.5 L1835.8,382.3 M1780.8,389.5 L1780.8,396.7 M1792.7,389.5 L1792.7,396.7 M1804.6,389.5 L1804.6,396.7 M1816.5,389.5 L1816.5,396.7 M1828.4,389.5 L1828.4,396.7 " fill="none" stroke="#f08ba4" stroke-width="3.7" stroke-linecap="round"/>
<line x1="1779.2" y1="415.3" x2="1875.9" y2="415.3" stroke="#f08ba4" stroke-width="7.8" stroke-linecap="round"/>
<path d="M1788.2,415.3 L1788.2,408.1 M1800.1,415.3 L1800.1,408.1 M1812.0,415.3 L1812.0,408.1 M1823.9,415.3 L1823.9,408.1 M1835.8,415.3 L1835.8,408.1 M1780.8,415.3 L1780.8,422.5 M1792.7,415.3 L1792.7,422.5 M1804.6,415.3 L1804.6,422.5 M1816.5,415.3 L1816.5,422.5 M1828.4,415.3 L1828.4,422.5 " fill="none" stroke="#f08ba4" stroke-width="3.7" stroke-linecap="round"/>
<line x1="1779.2" y1="446.5" x2="1875.9" y2="446.5" stroke="#f08ba4" stroke-width="7.8" stroke-linecap="round"/>
<path d="M1788.2,446.5 L1788.2,439.3 M1800.1,446.5 L1800.1,439.3 M1812.0,446.5 L1812.0,439.3 M1823.9,446.5 L1823.9,439.3 M1835.8,446.5 L1835.8,439.3 M1780.8,446.5 L1780.8,453.7 M1792.7,446.5 L1792.7,453.7 M1804.6,446.5 L1804.6,453.7 M1816.5,446.5 L1816.5,453.7 M1828.4,446.5 L1828.4,453.7 " fill="none" stroke="#f08ba4" stroke-width="3.7" stroke-linecap="round"/>
<g transform="translate(1448.5,826) rotate(31)"><rect x="-60" y="-80" width="120" height="160" rx="38" fill="#f9ddd5"/><rect x="-48" y="-68" width="96" height="136" rx="29" fill="#fbece7"/><rect x="-37" y="-57" width="74" height="114" rx="24" fill="#f8dad2"/><g fill="none" stroke="#fbece7" stroke-width="10" stroke-linecap="round"><path d="M-40,-31 L-6,-31"/><path d="M-40,-4 L-10,-4"/><path d="M-40,24 L-4,24"/><path d="M40,-40 L22,-40"/><path d="M40,-17 L10,-17"/><path d="M40,9 L6,9"/><path d="M40,36 L12,36"/></g></g>
<line x1="1371.8" y1="1235.7" x2="1367.8" y2="1274.3" stroke="#e3eefa" stroke-width="1.8"/>
<line x1="1394.3" y1="1232.5" x2="1390.3" y2="1277.5" stroke="#e3eefa" stroke-width="1.8"/>
<line x1="1416.8" y1="1235.7" x2="1412.8" y2="1274.3" stroke="#e3eefa" stroke-width="1.8"/>
<line x1="1508.4" y1="1235.7" x2="1504.4" y2="1274.3" stroke="#e3eefa" stroke-width="1.8"/>
<line x1="1530.9" y1="1232.5" x2="1526.9" y2="1277.5" stroke="#e3eefa" stroke-width="1.8"/>
<line x1="1553.4" y1="1235.7" x2="1549.4" y2="1274.3" stroke="#e3eefa" stroke-width="1.8"/>
<line x1="1645.0" y1="1235.7" x2="1641.0" y2="1274.3" stroke="#e3eefa" stroke-width="1.8"/>
<line x1="1667.5" y1="1232.5" x2="1663.5" y2="1277.5" stroke="#e3eefa" stroke-width="1.8"/>
<line x1="1690.0" y1="1235.7" x2="1686.0" y2="1274.3" stroke="#e3eefa" stroke-width="1.8"/>
<line x1="1781.6" y1="1235.7" x2="1777.6" y2="1274.3" stroke="#e3eefa" stroke-width="1.8"/>
<line x1="1804.1" y1="1232.5" x2="1800.1" y2="1277.5" stroke="#e3eefa" stroke-width="1.8"/>
<line x1="1826.6" y1="1235.7" x2="1822.6" y2="1274.3" stroke="#e3eefa" stroke-width="1.8"/>
<path d="M1349.7,1268.7 L1354.3,1270.7 L1359.0,1272.7 L1363.6,1274.4 L1368.3,1275.9 L1372.9,1277.1 L1377.5,1278.1 L1382.2,1278.8 L1386.8,1279.3 L1391.5,1279.5 L1396.1,1279.4 L1400.8,1279.0 L1405.4,1278.4 L1410.0,1277.5 L1414.7,1276.3 L1419.3,1274.9 L1424.0,1273.3 L1428.6,1271.4 L1433.2,1269.4 L1437.9,1267.2 L1442.5,1264.9 L1447.2,1262.4 L1451.8,1259.9 L1456.5,1257.3 L1461.1,1254.7" fill="none" stroke="url(#dnaD0)" stroke-width="7"/>
<path d="M1349.7,1241.3 L1354.3,1239.3 L1359.0,1237.3 L1363.6,1235.6 L1368.3,1234.1 L1372.9,1232.9 L1377.5,1231.9 L1382.2,1231.2 L1386.8,1230.7 L1391.5,1230.5 L1396.1,1230.6 L1400.8,1231.0 L1405.4,1231.6 L1410.0,1232.5 L1414.7,1233.7 L1419.3,1235.1 L1424.0,1236.7 L1428.6,1238.6 L1433.2,1240.6 L1437.9,1242.8 L1442.5,1245.1 L1447.2,1247.6 L1451.8,1250.1 L1456.5,1252.7 L1461.1,1255.3" fill="none" stroke="url(#dnaL0)" stroke-width="7"/>
<path d="M1460.1,1254.7 L1465.8,1257.9 L1471.6,1261.1 L1477.3,1264.2 L1483.0,1267.1 L1488.8,1269.8 L1494.5,1272.2 L1500.3,1274.4 L1506.0,1276.2 L1511.7,1277.6 L1517.5,1278.7 L1523.2,1279.3 L1528.9,1279.5 L1534.7,1279.3 L1540.4,1278.6 L1546.2,1277.6 L1551.9,1276.2 L1557.6,1274.3 L1563.4,1272.2 L1569.1,1269.7 L1574.8,1267.0 L1580.6,1264.1 L1586.3,1261.1 L1592.1,1257.9 L1597.8,1254.7" fill="none" stroke="url(#dnaL1)" stroke-width="7"/>
<path d="M1460.1,1255.3 L1465.8,1252.1 L1471.6,1248.9 L1477.3,1245.8 L1483.0,1242.9 L1488.8,1240.2 L1494.5,1237.8 L1500.3,1235.6 L1506.0,1233.8 L1511.7,1232.4 L1517.5,1231.3 L1523.2,1230.7 L1528.9,1230.5 L1534.7,1230.7 L1540.4,1231.4 L1546.2,1232.4 L1551.9,1233.8 L1557.6,1235.7 L1563.4,1237.8 L1569.1,1240.3 L1574.8,1243.0 L1580.6,1245.9 L1586.3,1248.9 L1592.1,1252.1 L1597.8,1255.3" fill="none" stroke="url(#dnaD1)" stroke-width="7"/>
<path d="M1596.8,1254.8 L1602.5,1258.0 L1608.3,1261.2 L1614.0,1264.2 L1619.7,1267.1 L1625.5,1269.8 L1631.2,1272.3 L1636.9,1274.4 L1642.7,1276.2 L1648.4,1277.6 L1654.1,1278.7 L1659.9,1279.3 L1665.6,1279.5 L1671.3,1279.3 L1677.1,1278.6 L1682.8,1277.6 L1688.5,1276.1 L1694.3,1274.3 L1700.0,1272.2 L1705.7,1269.7 L1711.5,1267.0 L1717.2,1264.1 L1722.9,1261.1 L1728.7,1257.9 L1734.4,1254.7" fill="none" stroke="url(#dnaD2)" stroke-width="7"/>
<path d="M1596.8,1255.2 L1602.5,1252.0 L1608.3,1248.8 L1614.0,1245.8 L1619.7,1242.9 L1625.5,1240.2 L1631.2,1237.7 L1636.9,1235.6 L1642.7,1233.8 L1648.4,1232.4 L1654.1,1231.3 L1659.9,1230.7 L1665.6,1230.5 L1671.3,1230.7 L1677.1,1231.4 L1682.8,1232.4 L1688.5,1233.9 L1694.3,1235.7 L1700.0,1237.8 L1705.7,1240.3 L1711.5,1243.0 L1717.2,1245.9 L1722.9,1248.9 L1728.7,1252.1 L1734.4,1255.3" fill="none" stroke="url(#dnaL2)" stroke-width="7"/>
<path d="M1733.4,1254.8 L1738.2,1257.5 L1743.1,1260.2 L1747.9,1262.8 L1752.7,1265.3 L1757.5,1267.7 L1762.4,1270.0 L1767.2,1272.0 L1772.0,1273.9 L1776.8,1275.5 L1781.7,1276.8 L1786.5,1277.9 L1791.3,1278.7 L1796.1,1279.3 L1801.0,1279.5 L1805.8,1279.4 L1810.6,1279.0 L1815.4,1278.4 L1820.2,1277.4 L1825.1,1276.2 L1829.9,1274.7 L1834.7,1272.9 L1839.5,1271.0 L1844.4,1268.8 L1849.2,1266.5" fill="none" stroke="url(#dnaL3)" stroke-width="7"/>
<path d="M1733.4,1255.2 L1738.2,1252.5 L1743.1,1249.8 L1747.9,1247.2 L1752.7,1244.7 L1757.5,1242.3 L1762.4,1240.0 L1767.2,1238.0 L1772.0,1236.1 L1776.8,1234.5 L1781.7,1233.2 L1786.5,1232.1 L1791.3,1231.3 L1796.1,1230.7 L1801.0,1230.5 L1805.8,1230.6 L1810.6,1231.0 L1815.4,1231.6 L1820.2,1232.6 L1825.1,1233.8 L1829.9,1235.3 L1834.7,1237.1 L1839.5,1239.0 L1844.4,1241.2 L1849.2,1243.5" fill="none" stroke="url(#dnaD3)" stroke-width="7"/>
<defs><linearGradient id="dnaL0" gradientUnits="userSpaceOnUse" x1="1350.2" y1="0" x2="1460.6" y2="0"><stop offset="0" stop-color="#f4f8fc"/><stop offset="0.25" stop-color="#e3eef9"/><stop offset="1" stop-color="#79b5e4"/></linearGradient><linearGradient id="dnaD0" gradientUnits="userSpaceOnUse" x1="1350.2" y1="0" x2="1460.6" y2="0"><stop offset="0" stop-color="#2a58a8"/><stop offset="0.55" stop-color="#3a62b0"/><stop offset="1" stop-color="#d5dbef"/></linearGradient><linearGradient id="dnaL1" gradientUnits="userSpaceOnUse" x1="1460.6" y1="0" x2="1597.3" y2="0"><stop offset="0" stop-color="#f4f8fc"/><stop offset="0.25" stop-color="#e3eef9"/><stop offset="1" stop-color="#79b5e4"/></linearGradient><linearGradient id="dnaD1" gradientUnits="userSpaceOnUse" x1="1460.6" y1="0" x2="1597.3" y2="0"><stop offset="0" stop-color="#2a58a8"/><stop offset="0.55" stop-color="#3a62b0"/><stop offset="1" stop-color="#d5dbef"/></linearGradient><linearGradient id="dnaL2" gradientUnits="userSpaceOnUse" x1="1597.3" y1="0" x2="1733.9" y2="0"><stop offset="0" stop-color="#f4f8fc"/><stop offset="0.25" stop-color="#e3eef9"/><stop offset="1" stop-color="#79b5e4"/></linearGradient><linearGradient id="dnaD2" gradientUnits="userSpaceOnUse" x1="1597.3" y1="0" x2="1733.9" y2="0"><stop offset="0" stop-color="#2a58a8"/><stop offset="0.55" stop-color="#3a62b0"/><stop offset="1" stop-color="#d5dbef"/></linearGradient><linearGradient id="dnaL3" gradientUnits="userSpaceOnUse" x1="1733.9" y1="0" x2="1848.7" y2="0"><stop offset="0" stop-color="#f4f8fc"/><stop offset="0.25" stop-color="#e3eef9"/><stop offset="1" stop-color="#79b5e4"/></linearGradient><linearGradient id="dnaD3" gradientUnits="userSpaceOnUse" x1="1733.9" y1="0" x2="1848.7" y2="0"><stop offset="0" stop-color="#2a58a8"/><stop offset="0.55" stop-color="#3a62b0"/><stop offset="1" stop-color="#d5dbef"/></linearGradient></defs>
<path d="M408.8,298.7 L444.8,348.1" fill="none" stroke="#000" stroke-width="2.3" marker-end="url(#ah)"/>
<path d="M503.7,295.6 L503.7,336.4" fill="none" stroke="#000" stroke-width="2.3" marker-end="url(#ah)"/>
<path d="M600.3,299.5 L562.8,349.3" fill="none" stroke="#000" stroke-width="2.3" marker-end="url(#ah)"/>
<path d="M708,224.3 L648,224.3" fill="none" stroke="#000" stroke-width="2.6" marker-end="url(#ah)"/>
<path d="M839,336.7 C 770,337 715,300 689,233" fill="none" stroke="#000" stroke-width="2.6" marker-end="url(#ah)"/>
<path d="M967.9,318.8 L935,334" fill="none" stroke="#000" stroke-width="2.3" marker-end="url(#ah)"/>
<path d="M1177.5,322 L1177.5,362" fill="none" stroke="#000" stroke-width="2.3" marker-end="url(#ah)"/>
<path d="M1178,433 L1178,455" fill="none" stroke="#000" stroke-width="2.3" marker-end="url(#ah)"/>
<path d="M1176.4,513.5 L1176.4,534" fill="none" stroke="#000" stroke-width="2.3" marker-end="url(#ah)"/>
<path d="M1176.2,594.2 L1176.2,616.8" fill="none" stroke="#000" stroke-width="2.3" marker-end="url(#ah)"/>
<path d="M1176.2,677.8 L1176.2,700.7" fill="none" stroke="#000" stroke-width="2.3" marker-end="url(#ah)"/>
<path d="M503.6,404.6 L503.6,435.6" fill="none" stroke="#000" stroke-width="2.3" marker-end="url(#th)"/>
<path d="M551.4,392 L667.6,509.8" fill="none" stroke="#000" stroke-width="2.3" marker-end="url(#ah)"/>
<path d="M567,378.2 L748.6,446.6" fill="none" stroke="#000" stroke-width="2.3" marker-end="url(#th)"/>
<path d="M716.4,509.4 L761,466" fill="none" stroke="#000" stroke-width="2.3" marker-end="url(#ah)"/>
<path d="M566.5,361.5 C583.1,362.1 632.6,362.8 666.0,365.3 C699.4,367.8 737.4,372.4 766.8,376.6 C796.2,380.8 821.3,385.7 842.3,390.5 C863.3,395.3 878.0,400.2 892.7,405.6 C907.4,411.1 920.0,417.3 930.5,423.2 C941.0,429.1 948.6,434.6 955.7,440.9 C962.9,447.2 968.8,453.4 973.4,461.0 C978.0,468.6 980.1,474.4 983.5,486.2 C986.9,498.0 989.8,511.5 993.5,531.6 C997.2,551.7 1002.0,584.4 1006.0,607.0 C1010.0,629.6 1012.7,641.5 1017.5,667.0 C1022.3,692.5 1029.1,729.5 1035.0,760.0 C1040.9,790.5 1046.1,820.7 1052.7,850.0 C1059.3,879.3 1068.5,911.9 1074.7,935.6 C1080.9,959.3 1084.4,972.9 1090.0,992.0 C1095.6,1011.1 1103.1,1035.5 1108.1,1050.0 C1113.1,1064.5 1114.9,1069.4 1119.8,1079.1 C1124.7,1088.8 1129.9,1098.4 1137.2,1108.1 C1144.5,1117.8 1153.2,1128.5 1163.4,1137.2 C1173.6,1145.9 1186.2,1154.2 1198.3,1160.5 C1210.4,1166.8 1222.4,1170.9 1236.0,1175.0 C1249.6,1179.1 1263.0,1182.9 1279.7,1185.2 C1296.4,1187.5 1317.4,1189.0 1336.3,1189.0" fill="none" stroke="#000" stroke-width="1.7" marker-end="url(#tf)"/>
<path d="M448.2,388.2 C445.9,393.6 438.7,408.7 434.3,420.9 C429.9,433.1 425.5,446.5 421.7,461.2 C417.9,475.9 413.9,494.0 411.6,509.1 C409.3,524.2 407.9,538.6 407.9,552.0 C407.9,565.4 409.7,578.7 411.6,589.7 C413.5,600.7 415.4,606.8 419.2,617.8 C423.0,628.8 428.4,644.3 434.3,655.6 C440.2,666.9 446.9,677.4 454.5,685.8 C462.1,694.2 475.4,702.6 479.6,706.0" fill="none" stroke="#000" stroke-width="2.0" marker-end="url(#ah)"/>
<path d="M430.5,365.5 C426.8,367.8 414.5,373.6 408.0,379.5 C401.5,385.4 396.8,392.2 391.5,400.8 C386.2,409.4 381.4,418.4 376.4,431.0 C371.4,443.6 365.9,460.4 361.3,476.4 C356.7,492.4 352.7,510.0 348.7,526.8 C344.7,543.6 340.9,562.0 337.3,577.2 C333.7,592.4 329.6,600.5 327.2,617.8 C324.8,635.1 324.4,657.7 323.0,680.8 C321.6,703.9 319.6,738.7 318.9,756.4 C318.2,774.1 318.6,776.9 318.6,787.1" fill="none" stroke="#000" stroke-width="2.3" marker-end="url(#tw)"/>
<path d="M327.2,617.3 C322.8,619.1 309.4,622.8 300.8,627.9 C292.2,633.0 283.2,640.5 275.6,648.0 C268.0,655.5 261.4,663.6 255.4,673.2 C249.4,682.8 242.4,700.1 239.8,705.5" fill="none" stroke="#000" stroke-width="2.1" marker-end="url(#ah)"/>
<path d="M435.6,471.3 C425.7,466.3 394.7,451.6 376.4,441.1 C358.1,430.6 342.8,420.1 326.0,408.3 C309.2,396.5 290.3,382.2 275.6,370.5 C260.9,358.8 247.0,345.8 237.8,337.8 C228.6,329.8 223.1,325.2 220.2,322.7" fill="none" stroke="#000" stroke-width="2.3"/>
<path d="M402.8,521.7 C394.2,517.5 368.2,506.1 351.2,496.5 C334.2,486.9 317.6,476.4 300.8,463.8 C284.0,451.2 263.8,433.5 250.4,420.9 C237.0,408.3 225.2,393.6 220.2,388.2" fill="none" stroke="#000" stroke-width="2.3"/>
<path d="M637.5,550.2 C623.4,549.7 579.4,549.1 552.7,546.9 C526.0,544.7 498.6,540.1 477.2,536.8 C455.8,533.4 433.0,528.5 424.2,526.8" fill="none" stroke="#000" stroke-width="2.3" marker-end="url(#ah)"/>
<path d="M645,535.5 L558.4,491" fill="none" stroke="#000" stroke-width="2.3" marker-end="url(#th)"/>
<path d="M628.3,583.0 C622.4,586.2 603.5,594.6 593.0,602.5 C582.5,610.4 572.8,620.3 565.3,630.4 C557.8,640.5 551.9,651.5 547.7,663.1 C543.5,674.7 541.4,693.6 540.1,699.7" fill="none" stroke="#000" stroke-width="2.0" marker-end="url(#ah)"/>
<path d="M220.3,422 L220.3,263" fill="none" stroke="#000" stroke-width="2.3" marker-end="url(#ah)"/>
<path d="M533.6,779 L533.6,799" fill="none" stroke="#000" stroke-width="2.3" marker-end="url(#ahs)"/>
<path d="M163,761.2 L138.2,777.6" fill="none" stroke="#000" stroke-width="2.3" marker-end="url(#th)"/>
<path d="M116.9,857.9 L127.9,896.4" fill="none" stroke="#000" stroke-width="2.3" marker-end="url(#ah)"/>
<path d="M298,868 L298,960.8" fill="none" stroke="#000" stroke-width="2.3" marker-end="url(#ah)"/>
<path d="M360.5,832.0 C362.1,836.2 367.8,843.0 370.0,857.2 C372.2,871.4 373.3,899.9 373.8,917.0 C374.3,934.1 373.5,948.7 372.8,960.0 C372.1,971.3 371.1,979.0 369.5,985.0 C367.9,991.0 367.7,994.7 363.5,996.0" fill="none" stroke="#000" stroke-width="2.0" marker-end="url(#ths)"/>
<path d="M178.1,985.6 C179.7,980.9 182.8,964.7 187.5,957.4 C192.2,950.1 199.7,945.6 206.4,941.7 C213.1,937.8 224.3,935.1 227.9,933.8" fill="none" stroke="#000" stroke-width="2.3" marker-end="url(#ah)"/>
<path d="M237.1,949.5 C236.4,954.5 236.0,971.2 233.0,979.3 C230.0,987.4 225.2,993.7 218.9,998.2 C212.6,1002.7 199.1,1004.9 195.2,1006.2" fill="none" stroke="#000" stroke-width="2.3" marker-end="url(#ah)"/>
<path d="M833,483 L833,609.6" fill="none" stroke="#000" stroke-width="2.3" marker-end="url(#ah)"/>
<path d="M674.9,766.4 C670.5,770.2 656.7,779.9 648.5,789.1 C640.3,798.4 631.3,810.5 625.8,821.9 C620.3,833.2 617.8,844.3 615.7,857.2 C613.6,870.1 613.6,892.5 613.2,899.5" fill="none" stroke="#000" stroke-width="2.0" marker-end="url(#ah)"/>
<path d="M737,822 C 731,832 729,842 729.1,855.5" fill="none" stroke="#000" stroke-width="2.3" marker-end="url(#ahs)"/>
<path d="M847,856 C 847,878 842,895 834,910.5 L834,911" fill="none" stroke="#000" stroke-width="2.3" marker-end="url(#tw)"/>
<path d="M870,856 C 872,870 878,884 887.5,894" fill="none" stroke="#000" stroke-width="2.3" marker-end="url(#ah)"/>
<path d="M973,806.8 C 980,815 982.5,825 982.5,837.5" fill="none" stroke="#000" stroke-width="2.3" marker-end="url(#tw)"/>
<path d="M952.9,943.9 L965.4,960" fill="none" stroke="#000" stroke-width="2.3" marker-end="url(#ahs)"/>
<path d="M967.6,1032.4 L967.6,1054.6" fill="none" stroke="#000" stroke-width="2.3" marker-end="url(#ah)"/>
<path d="M1033.7,888.0 C1037.5,893.3 1049.9,907.9 1056.3,919.9 C1062.7,931.9 1068.1,946.6 1072.3,959.9 C1076.5,973.2 1079.6,985.9 1081.6,999.9 C1083.6,1013.9 1083.8,1036.7 1084.3,1044.0" fill="none" stroke="#000" stroke-width="1.7" marker-end="url(#ahf)"/>
<path d="M718.4,916 L718.4,1101" fill="none" stroke="#000" stroke-width="2.0" marker-end="url(#ah)"/>
<path d="M798.4,978 L798.4,997.3" fill="none" stroke="#000" stroke-width="2.3" marker-end="url(#ahs)"/>
<path d="M614,971.1 L614,991.6" fill="none" stroke="#000" stroke-width="2.3" marker-end="url(#ahs)"/>
<path d="M1546.6,1039.4 L1546.6,1154.4" fill="none" stroke="#000" stroke-width="2.3" marker-end="url(#ah)"/>
<path d="M1237.5,224 C 1290,228 1320,260 1323,307" fill="none" stroke="#000" stroke-width="2.0" marker-end="url(#ah)"/>
<path d="M1237.5,223.8 C1264.6,223.6 1348.9,222.4 1400.0,222.5 C1451.1,222.6 1503.2,223.2 1544.0,224.1 C1584.8,225.0 1611.2,225.6 1644.8,227.9 C1678.4,230.2 1716.2,234.0 1745.6,238.0 C1775.0,242.0 1798.0,246.4 1821.1,251.8 C1844.2,257.2 1866.0,263.8 1884.1,270.7 C1902.2,277.6 1916.9,285.4 1929.5,293.4 C1942.1,301.4 1951.3,309.8 1959.7,318.6 C1968.1,327.4 1974.4,336.7 1979.9,346.3 C1985.4,355.9 1988.9,365.6 1992.5,376.5 C1996.1,387.4 1998.8,398.4 2001.3,411.8 C2003.8,425.2 2005.8,439.6 2007.6,457.2 C2009.4,474.8 2011.0,500.0 2012.0,517.1 C2013.0,534.2 2013.5,545.4 2013.5,560.0 C2013.5,574.6 2013.0,589.8 2012.0,604.7 C2011.0,619.6 2009.5,632.1 2007.2,649.5 C2004.9,666.9 2002.7,690.3 1998.2,709.3 C1993.7,728.2 1986.7,747.8 1980.2,763.2 C1973.7,778.7 1966.8,791.0 1959.3,802.0 C1951.8,813.0 1943.4,822.5 1935.4,829.0 C1927.4,835.5 1920.7,838.7 1911.5,840.9 C1902.3,843.1 1890.6,841.8 1880.1,842.4" fill="none" stroke="#000" stroke-width="2.7" marker-end="url(#ah)"/>
<path d="M2012.0,604.7 C2010.9,617.2 2008.3,652.0 2005.5,679.4 C2002.7,706.8 1999.4,740.7 1995.2,769.1 C1991.0,797.5 1984.2,831.5 1980.2,850.0 C1976.2,868.5 1974.8,869.9 1971.3,879.9 C1967.8,889.9 1963.8,900.8 1959.3,909.8 C1954.8,918.8 1950.5,927.5 1944.4,933.7 C1938.3,939.9 1926.4,944.6 1922.8,946.8" fill="none" stroke="#000" stroke-width="2.7" marker-end="url(#ah)"/>
<path d="M2012.0,604.7 C2011.2,617.2 2009.6,652.0 2007.3,679.4 C2005.0,706.8 2001.9,740.7 1998.2,769.1 C1994.5,797.5 1988.5,826.5 1985.2,850.0 C1981.9,873.5 1981.3,891.5 1978.5,909.8 C1975.7,928.1 1972.2,945.6 1968.3,960.0 C1964.4,974.4 1959.9,986.6 1955.0,996.0 C1950.1,1005.4 1945.0,1011.4 1939.0,1016.5 C1933.0,1021.6 1922.3,1025.1 1919.0,1026.8" fill="none" stroke="#000" stroke-width="2.7" marker-end="url(#ah)"/>
<path d="M2012.0,604.7 C2011.5,617.2 2010.8,652.0 2009.0,679.4 C2007.2,706.8 2004.2,740.7 2001.0,769.1 C1997.8,797.5 1992.9,824.0 1989.8,850.0 C1986.7,876.0 1985.6,899.9 1982.5,924.8 C1979.4,949.7 1975.7,974.6 1971.3,999.5 C1966.9,1024.4 1961.8,1051.4 1956.3,1074.3 C1950.8,1097.2 1943.9,1120.1 1938.4,1137.1 C1932.9,1154.0 1929.5,1165.8 1923.4,1176.0 C1917.3,1186.2 1905.6,1194.3 1902.0,1198.0" fill="none" stroke="#000" stroke-width="2.7" marker-end="url(#ah)"/>
<rect x="315.1" y="242.0" width="105.7" height="50.2" rx="21.5" ry="25.1" fill="#b4d9bc" stroke="#15994a" stroke-width="2.3"/>
<text x="368.0" y="275.4" font-size="25" text-anchor="middle" font-weight="normal" fill="#111" textLength="90.0" lengthAdjust="spacingAndGlyphs" stroke="#111" stroke-width="0.3">MTORC2</text>
<rect x="459.5" y="242.0" width="86.1" height="50.2" rx="21.5" ry="25.1" fill="#b4d9bc" stroke="#15994a" stroke-width="2.3"/>
<text x="502.6" y="275.5" font-size="25.5" text-anchor="middle" font-weight="normal" fill="#111" textLength="42.0" lengthAdjust="spacingAndGlyphs" stroke="#111" stroke-width="0.3">AKT</text>
<rect x="575.1" y="242.0" width="86.2" height="50.2" rx="21.5" ry="25.1" fill="#b4d9bc" stroke="#15994a" stroke-width="2.3"/>
<text x="618.2" y="275.5" font-size="25.5" text-anchor="middle" font-weight="normal" fill="#111" textLength="55.0" lengthAdjust="spacingAndGlyphs" stroke="#111" stroke-width="0.3">PDK1</text>
<rect x="459.4" y="341.4" width="85.9" height="49.6" rx="21.5" ry="24.8" fill="#b4d9bc" stroke="#15994a" stroke-width="2.3"/>
<text x="501.0" y="374.7" font-size="25.5" text-anchor="middle" font-weight="normal" fill="#111" textLength="42.5" lengthAdjust="spacingAndGlyphs" stroke="#111" stroke-width="0.3">AKT</text>
<rect x="446.8" y="448.0" width="104.9" height="49.9" rx="21.5" ry="25.0" fill="#b4d9bc" stroke="#15994a" stroke-width="2.3"/>
<text x="499.2" y="481.5" font-size="25.5" text-anchor="middle" font-weight="normal" fill="#111" textLength="74.5" lengthAdjust="spacingAndGlyphs" stroke="#111" stroke-width="0.3">TBCD4</text>
<rect x="962.4" y="270.8" width="96.4" height="49.7" rx="21.5" ry="24.9" fill="#b4d9bc" stroke="#15994a" stroke-width="2.3"/>
<text x="1011.0" y="303.3" font-size="25" text-anchor="middle" font-weight="normal" fill="#111" textLength="65.9" lengthAdjust="spacingAndGlyphs" stroke="#111" stroke-width="0.3">IRS1/2</text>
<rect x="845.9" y="311.1" width="85.9" height="50.2" rx="21.5" ry="25.1" fill="#b4d9bc" stroke="#15994a" stroke-width="2.3"/>
<text x="888.3" y="345.0" font-size="25" text-anchor="middle" font-weight="normal" fill="#111" textLength="45.5" lengthAdjust="spacingAndGlyphs" stroke="#111" stroke-width="0.3">PI3K</text>
<rect x="774.3" y="423.3" width="102.8" height="49.5" rx="21.5" ry="24.8" fill="#b5dce6" stroke="#178a7e" stroke-width="2.6"/>
<text x="825.7" y="457.3" font-size="29.3" text-anchor="middle" font-weight="normal" fill="#111" textLength="60.5" lengthAdjust="spacingAndGlyphs" stroke="#111" stroke-width="0.3">TSC2</text>
<rect x="712.3" y="685.6" width="118.2" height="49.9" rx="21.5" ry="24.9" fill="#b5dce6" stroke="#178a7e" stroke-width="2.8"/>
<text x="767.9" y="719.2" font-size="28.3" text-anchor="middle" font-weight="normal" fill="#111" textLength="81.4" lengthAdjust="spacingAndGlyphs" stroke="#111" stroke-width="0.3">RPTOR</text>
<rect x="846.4" y="687.1" width="102.7" height="49.9" rx="21.5" ry="24.9" fill="#b5dce6" stroke="#178a7e" stroke-width="2.8"/>
<text x="896.2" y="721.2" font-size="28.3" text-anchor="middle" font-weight="normal" fill="#111" textLength="73.0" lengthAdjust="spacingAndGlyphs" stroke="#111" stroke-width="0.3">MTOR</text>
<rect x="717.8" y="743.7" width="122.0" height="49.9" rx="21.5" ry="25.0" fill="#b5dce6" stroke="#178a7e" stroke-width="2.8"/>
<text x="777.6" y="777.3" font-size="28.3" text-anchor="middle" font-weight="normal" fill="#111" textLength="85.3" lengthAdjust="spacingAndGlyphs" stroke="#111" stroke-width="0.3">DPTOR</text>
<rect x="858.8" y="745.0" width="123.6" height="50.2" rx="21.5" ry="25.1" fill="#b5dce6" stroke="#178a7e" stroke-width="2.8"/>
<text x="916.8" y="778.8" font-size="28.3" text-anchor="middle" font-weight="normal" fill="#111" textLength="75.2" lengthAdjust="spacingAndGlyphs" stroke="#111" stroke-width="0.3">AKTS1</text>
<rect x="668.4" y="862.0" width="94.9" height="45.5" rx="21.5" ry="22.8" fill="#b5dce6" stroke="#178a7e" stroke-width="2.4"/>
<text x="719.0" y="892.2" font-size="25" text-anchor="middle" font-weight="normal" fill="#111" textLength="60.7" lengthAdjust="spacingAndGlyphs" stroke="#111" stroke-width="0.3">CLIP1</text>
<rect x="561.9" y="919.8" width="106.3" height="45.6" rx="21.5" ry="22.8" fill="#b5dce6" stroke="#178a7e" stroke-width="2.4"/>
<text x="612.0" y="950.8" font-size="25" text-anchor="middle" font-weight="normal" fill="#111" textLength="62.7" lengthAdjust="spacingAndGlyphs" stroke="#111" stroke-width="0.3">LPIN1</text>
<rect x="755.9" y="926.5" width="94.0" height="45.5" rx="21.5" ry="22.8" fill="#b5dce6" stroke="#178a7e" stroke-width="2.4"/>
<text x="802.9" y="958.0" font-size="25" text-anchor="middle" font-weight="normal" fill="#111" textLength="56.5" lengthAdjust="spacingAndGlyphs" stroke="#111" stroke-width="0.3">ULK1</text>
<rect x="865.6" y="905.2" width="84.2" height="45.5" rx="21.5" ry="22.7" fill="#b5dce6" stroke="#178a7e" stroke-width="2.4"/>
<text x="910.2" y="936.7" font-size="25" text-anchor="middle" font-weight="normal" fill="#111" textLength="69.3" lengthAdjust="spacingAndGlyphs" stroke="#111" stroke-width="0.3">KS6A1</text>
<rect x="923.7" y="853.2" width="104.8" height="50.4" rx="21.5" ry="25.2" fill="#b5dce6" stroke="#178a7e" stroke-width="2.4"/>
<text x="976.0" y="888.6" font-size="27" text-anchor="middle" font-weight="normal" fill="#111" textLength="60.5" lengthAdjust="spacingAndGlyphs" stroke="#111" stroke-width="0.3">4EBP</text>
<rect x="885.6" y="982.4" width="79.4" height="45.1" rx="21.5" ry="22.6" fill="#b5dce6" stroke="#178a7e" stroke-width="2.4"/>
<text x="925.0" y="1013.4" font-size="25" text-anchor="middle" font-weight="normal" fill="#111" textLength="47.7" lengthAdjust="spacingAndGlyphs" stroke="#111" stroke-width="0.3">IF4B</text>
<rect x="975.4" y="983.2" width="102.4" height="45.3" rx="21.5" ry="22.7" fill="#b5dce6" stroke="#178a7e" stroke-width="2.4"/>
<text x="1028.0" y="1014.6" font-size="25" text-anchor="middle" font-weight="normal" fill="#111" textLength="96.7" lengthAdjust="spacingAndGlyphs" stroke="#111" stroke-width="0.3">RPS6KB1</text>
<rect x="657.1" y="519.0" width="105.1" height="49.2" rx="21.5" ry="24.6" fill="#fbf6c4" stroke="#cfbb2d" stroke-width="2.5"/>
<text x="711.7" y="552.6" font-size="30" text-anchor="middle" font-weight="normal" fill="#111" textLength="73.8" lengthAdjust="spacingAndGlyphs" stroke="#111" stroke-width="0.3">AMPK</text>
<rect x="487.8" y="726.0" width="114.1" height="45.5" rx="21.5" ry="22.8" fill="#fbf6c4" stroke="#cfbb2d" stroke-width="2.3"/>
<text x="544.5" y="756.0" font-size="25.5" text-anchor="middle" font-weight="normal" fill="#111" textLength="84.4" lengthAdjust="spacingAndGlyphs" stroke="#111" stroke-width="0.3">PFKFB2</text>
<rect x="176.8" y="714.5" width="123.2" height="49.8" rx="21.5" ry="24.9" fill="#a77db9" stroke="#5a2a82" stroke-width="2.5"/>
<text x="240.1" y="748.2" font-size="28" text-anchor="middle" font-weight="normal" fill="#111" textLength="80.0" lengthAdjust="spacingAndGlyphs" stroke="#111" stroke-width="0.3">PPR3A</text>
<rect x="60.0" y="799.5" width="104.2" height="49.3" rx="21.5" ry="24.6" fill="#a77db9" stroke="#5a2a82" stroke-width="2.5"/>
<text x="111.0" y="832.0" font-size="28" text-anchor="middle" font-weight="normal" fill="#111" textLength="60.3" lengthAdjust="spacingAndGlyphs" stroke="#111" stroke-width="0.3">KPB1</text>
<rect x="227.1" y="804.5" width="129.0" height="49.5" rx="21.5" ry="24.8" fill="#a77db9" stroke="#5a2a82" stroke-width="2.5"/>
<text x="291.1" y="837.5" font-size="28" text-anchor="middle" font-weight="normal" fill="#111" textLength="109.8" lengthAdjust="spacingAndGlyphs" stroke="#111" stroke-width="0.3">GSK3A/B</text>
<rect x="85.2" y="901.1" width="109.0" height="49.6" rx="21.5" ry="24.8" fill="#a77db9" stroke="#5a2a82" stroke-width="2.5"/>
<text x="139.6" y="934.0" font-size="28" text-anchor="middle" font-weight="normal" fill="#111" textLength="71.9" lengthAdjust="spacingAndGlyphs" stroke="#111" stroke-width="0.3">PYGM</text>
<rect x="244.7" y="969.0" width="108.0" height="49.3" rx="21.5" ry="24.6" fill="#a77db9" stroke="#5a2a82" stroke-width="2.5"/>
<text x="296.3" y="1003.0" font-size="28" text-anchor="middle" font-weight="normal" fill="#111" textLength="61.8" lengthAdjust="spacingAndGlyphs" stroke="#111" stroke-width="0.3">GYS1</text>
<rect x="1134.6" y="259.7" width="86.3" height="49.5" rx="21.5" ry="24.8" fill="#e4c6e4" stroke="#7d2b9a" stroke-width="2.6"/>
<text x="1179.0" y="294.2" font-size="25" text-anchor="middle" font-weight="normal" fill="#111" textLength="43.5" lengthAdjust="spacingAndGlyphs" stroke="#111" stroke-width="0.3">SHC</text>
<rect x="1139.8" y="373.6" width="85.3" height="49.3" rx="21.5" ry="24.6" fill="#e4c6e4" stroke="#7d2b9a" stroke-width="2.6"/>
<text x="1183.2" y="405.9" font-size="25" text-anchor="middle" font-weight="normal" fill="#111" textLength="56.0" lengthAdjust="spacingAndGlyphs" stroke="#111" stroke-width="0.3">GRB2</text>
<rect x="1135.0" y="459.0" width="85.9" height="49.3" rx="21.5" ry="24.7" fill="#e4c6e4" stroke="#7d2b9a" stroke-width="2.6"/>
<text x="1177.8" y="490.4" font-size="25" text-anchor="middle" font-weight="normal" fill="#111" textLength="41.5" lengthAdjust="spacingAndGlyphs" stroke="#111" stroke-width="0.3">RAS</text>
<rect x="1124.5" y="538.4" width="98.4" height="49.9" rx="21.5" ry="24.9" fill="#e4c6e4" stroke="#7d2b9a" stroke-width="2.6"/>
<text x="1171.6" y="571.0" font-size="25" text-anchor="middle" font-weight="normal" fill="#111" textLength="67.7" lengthAdjust="spacingAndGlyphs" stroke="#111" stroke-width="0.3">ARAF1</text>
<rect x="1116.1" y="621.4" width="124.3" height="49.8" rx="21.5" ry="24.9" fill="#e4c6e4" stroke="#7d2b9a" stroke-width="2.6"/>
<text x="1180.0" y="654.2" font-size="25" text-anchor="middle" font-weight="normal" fill="#111" textLength="94.2" lengthAdjust="spacingAndGlyphs" stroke="#111" stroke-width="0.3">MP2K1/2</text>
<rect x="1082.4" y="708.9" width="212.9" height="50.7" rx="21.5" ry="25.4" fill="#e4c6e4" stroke="#7d2b9a" stroke-width="2.8"/>
<text x="1191.6" y="741.6" font-size="25" text-anchor="middle" font-weight="normal" fill="#111" textLength="189.5" lengthAdjust="spacingAndGlyphs" stroke="#111" stroke-width="0.3">MK03/01 (ERK1/2)</text>
<rect x="1348.1" y="504.1" width="105.0" height="45.6" rx="21.5" ry="22.8" fill="#f4a2ad" stroke="#b864a8" stroke-width="2"/>
<text x="1402.2" y="532.6" font-size="22" text-anchor="middle" font-weight="normal" fill="#111" textLength="74.8" lengthAdjust="spacingAndGlyphs" stroke="#111" stroke-width="0.3">MYH2/7</text>
<rect x="1476.4" y="502.4" width="98.5" height="46.0" rx="21.5" ry="23.0" fill="#f4a2ad" stroke="#b864a8" stroke-width="2"/>
<text x="1528.2" y="531.3" font-size="22" text-anchor="middle" font-weight="normal" fill="#111" textLength="69.5" lengthAdjust="spacingAndGlyphs" stroke="#111" stroke-width="0.3">MYBPH</text>
<rect x="1348.1" y="562.9" width="99.8" height="45.8" rx="21.5" ry="22.9" fill="#f4a2ad" stroke="#b864a8" stroke-width="2"/>
<text x="1399.1" y="592.4" font-size="22" text-anchor="middle" font-weight="normal" fill="#111" textLength="68.6" lengthAdjust="spacingAndGlyphs" stroke="#111" stroke-width="0.3">MYBPC</text>
<rect x="1350.0" y="655.4" width="106.9" height="45.8" rx="21.5" ry="22.9" fill="#f4a2ad" stroke="#b864a8" stroke-width="2"/>
<text x="1403.8" y="684.5" font-size="22" text-anchor="middle" font-weight="normal" fill="#111" textLength="73.4" lengthAdjust="spacingAndGlyphs" stroke="#111" stroke-width="0.3">MYOM1</text>
<rect x="1671.9" y="508.0" width="77.1" height="45.2" rx="21.5" ry="22.6" fill="#f4a2ad" stroke="#b864a8" stroke-width="2"/>
<text x="1707.5" y="537.0" font-size="22" text-anchor="middle" font-weight="normal" fill="#111" textLength="38.0" lengthAdjust="spacingAndGlyphs" stroke="#111" stroke-width="0.3">TTN</text>
<rect x="1763.4" y="508.0" width="84.8" height="45.2" rx="21.5" ry="22.6" fill="#f4a2ad" stroke="#b864a8" stroke-width="2"/>
<text x="1807.0" y="537.0" font-size="22" text-anchor="middle" font-weight="normal" fill="#111" textLength="57.0" lengthAdjust="spacingAndGlyphs" stroke="#111" stroke-width="0.3">MYOT</text>
<rect x="1670.0" y="567.5" width="100.0" height="45.7" rx="21.5" ry="22.9" fill="#f4a2ad" stroke="#b864a8" stroke-width="2"/>
<text x="1720.0" y="597.0" font-size="22" text-anchor="middle" font-weight="normal" fill="#111" textLength="69.0" lengthAdjust="spacingAndGlyphs" stroke="#111" stroke-width="0.3">OBSCN</text>
<rect x="1523.7" y="928.1" width="128.2" height="44.8" rx="12.0" ry="12.0" fill="#dcc7e3" stroke="#6940a5" stroke-width="2.2"/>
<text x="1587.8" y="958.8" font-size="25" text-anchor="middle" font-weight="normal" fill="#111" textLength="99.0" lengthAdjust="spacingAndGlyphs" stroke="#111" stroke-width="0.3">HSPB6/8</text>
<rect x="1666.8" y="928.1" width="104.1" height="44.8" rx="12.0" ry="12.0" fill="#dcc7e3" stroke="#6940a5" stroke-width="2.2"/>
<text x="1718.8" y="958.8" font-size="25" text-anchor="middle" font-weight="normal" fill="#111" textLength="74.0" lengthAdjust="spacingAndGlyphs" stroke="#111" stroke-width="0.3">HSP74</text>
<rect x="1783.6" y="928.1" width="104.9" height="44.8" rx="12.0" ry="12.0" fill="#dcc7e3" stroke="#6940a5" stroke-width="2.2"/>
<text x="1836.0" y="958.8" font-size="25" text-anchor="middle" font-weight="normal" fill="#111" textLength="76.0" lengthAdjust="spacingAndGlyphs" stroke="#111" stroke-width="0.3">DNJC2</text>
<rect x="1607.7" y="1002.2" width="271.8" height="46.8" rx="23.5" ry="23.5" fill="#d9e9c2" stroke="#0f8a5c" stroke-width="2.8"/>
<text x="1743.6" y="1033.9" font-size="25" text-anchor="middle" font-weight="normal" fill="#111" textLength="248.0" lengthAdjust="spacingAndGlyphs" stroke="#111" stroke-width="0.3">KCC2B/G (CAMK2B/G)</text>
<rect x="1349.8" y="1164.5" width="128.9" height="50.0" rx="24.0" ry="24.0" fill="#a9b4e0" stroke="#2a2a6e" stroke-width="2.2"/>
<text x="1414.2" y="1198.2" font-size="26" text-anchor="middle" font-weight="normal" fill="#111" textLength="118.6" lengthAdjust="spacingAndGlyphs" stroke="#111" stroke-width="0.3">FOXK2/O4</text>
<rect x="1490.6" y="1164.5" width="115.7" height="50.0" rx="24.0" ry="24.0" fill="#a9b4e0" stroke="#2a2a6e" stroke-width="2.2"/>
<text x="1548.5" y="1198.2" font-size="26" text-anchor="middle" font-weight="normal" fill="#111" textLength="98.0" lengthAdjust="spacingAndGlyphs" stroke="#111" stroke-width="0.3">NFAC1/2</text>
<rect x="1611.4" y="1164.5" width="108.5" height="50.0" rx="24.0" ry="24.0" fill="#a9b4e0" stroke="#2a2a6e" stroke-width="2.2"/>
<text x="1665.7" y="1198.2" font-size="26" text-anchor="middle" font-weight="normal" fill="#111" textLength="79.0" lengthAdjust="spacingAndGlyphs" stroke="#111" stroke-width="0.3">MEF2A</text>
<text x="788.6" y="673.4" font-size="29.5" text-anchor="start" font-weight="normal" fill="#111" textLength="103.0" lengthAdjust="spacingAndGlyphs">MTORC1</text>
<text x="1058.8" y="75.3" font-size="23" text-anchor="start" font-weight="normal" fill="#111" textLength="94.0" lengthAdjust="spacingAndGlyphs">Инсулин</text>
<circle cx="410.8" cy="240.8" r="12.2" fill="#e6332a"/>
<text x="411.6" y="251.4" font-size="29.0" text-anchor="middle" font-weight="normal" fill="#111" textLength="14.2" lengthAdjust="spacingAndGlyphs" stroke="#111" stroke-width="0.3">P</text>
<circle cx="537.7" cy="343.8" r="12.2" fill="#e6332a"/>
<text x="538.5" y="354.4" font-size="29.0" text-anchor="middle" font-weight="normal" fill="#111" textLength="14.2" lengthAdjust="spacingAndGlyphs" stroke="#111" stroke-width="0.3">P</text>
<circle cx="541.9" cy="449.2" r="12.2" fill="#e6332a"/>
<text x="542.7" y="459.8" font-size="29.0" text-anchor="middle" font-weight="normal" fill="#111" textLength="14.2" lengthAdjust="spacingAndGlyphs" stroke="#111" stroke-width="0.3">P</text>
<circle cx="761.8" cy="524.0" r="12.2" fill="#e6332a"/>
<text x="762.6" y="534.6" font-size="29.0" text-anchor="middle" font-weight="normal" fill="#111" textLength="14.2" lengthAdjust="spacingAndGlyphs" stroke="#111" stroke-width="0.3">P</text>
<circle cx="872.5" cy="423.2" r="12.2" fill="#e6332a"/>
<text x="873.3" y="433.8" font-size="29.0" text-anchor="middle" font-weight="normal" fill="#111" textLength="14.2" lengthAdjust="spacingAndGlyphs" stroke="#111" stroke-width="0.3">P</text>
<circle cx="1058.8" cy="284.2" r="12.2" fill="#e6332a"/>
<text x="1059.6" y="294.8" font-size="29.0" text-anchor="middle" font-weight="normal" fill="#111" textLength="14.2" lengthAdjust="spacingAndGlyphs" stroke="#111" stroke-width="0.3">P</text>
<circle cx="1085.9" cy="241.4" r="12.2" fill="#e6332a"/>
<text x="1086.7" y="252.0" font-size="29.0" text-anchor="middle" font-weight="normal" fill="#111" textLength="14.2" lengthAdjust="spacingAndGlyphs" stroke="#111" stroke-width="0.3">P</text>
<circle cx="1161.2" cy="217.0" r="12.2" fill="#e6332a"/>
<text x="1162.0" y="227.6" font-size="29.0" text-anchor="middle" font-weight="normal" fill="#111" textLength="14.2" lengthAdjust="spacingAndGlyphs" stroke="#111" stroke-width="0.3">P</text>
<circle cx="1219.7" cy="544.5" r="12.2" fill="#e6332a"/>
<text x="1220.5" y="555.1" font-size="29.0" text-anchor="middle" font-weight="normal" fill="#111" textLength="14.2" lengthAdjust="spacingAndGlyphs" stroke="#111" stroke-width="0.3">P</text>
<circle cx="1285.0" cy="711.2" r="12.2" fill="#e6332a"/>
<text x="1285.8" y="721.8" font-size="29.0" text-anchor="middle" font-weight="normal" fill="#111" textLength="14.2" lengthAdjust="spacingAndGlyphs" stroke="#111" stroke-width="0.3">P</text>
<circle cx="716.7" cy="683.4" r="12.2" fill="#e6332a"/>
<text x="717.5" y="694.0" font-size="29.0" text-anchor="middle" font-weight="normal" fill="#111" textLength="14.2" lengthAdjust="spacingAndGlyphs" stroke="#111" stroke-width="0.3">P</text>
<circle cx="943.1" cy="688.9" r="12.2" fill="#e6332a"/>
<text x="943.9" y="699.5" font-size="29.0" text-anchor="middle" font-weight="normal" fill="#111" textLength="14.2" lengthAdjust="spacingAndGlyphs" stroke="#111" stroke-width="0.3">P</text>
<circle cx="722.0" cy="746.6" r="12.2" fill="#e6332a"/>
<text x="722.8" y="757.2" font-size="29.0" text-anchor="middle" font-weight="normal" fill="#111" textLength="14.2" lengthAdjust="spacingAndGlyphs" stroke="#111" stroke-width="0.3">P</text>
<circle cx="971.3" cy="745.9" r="12.2" fill="#e6332a"/>
<text x="972.1" y="756.5" font-size="29.0" text-anchor="middle" font-weight="normal" fill="#111" textLength="14.2" lengthAdjust="spacingAndGlyphs" stroke="#111" stroke-width="0.3">P</text>
<circle cx="354.7" cy="807.2" r="12.2" fill="#e6332a"/>
<text x="355.5" y="817.8" font-size="29.0" text-anchor="middle" font-weight="normal" fill="#111" textLength="14.2" lengthAdjust="spacingAndGlyphs" stroke="#111" stroke-width="0.3">P</text>
<circle cx="255.0" cy="967.8" r="12.2" fill="#e6332a"/>
<text x="255.8" y="978.4" font-size="29.0" text-anchor="middle" font-weight="normal" fill="#111" textLength="14.2" lengthAdjust="spacingAndGlyphs" stroke="#111" stroke-width="0.3">P</text>
<circle cx="1025.7" cy="859.8" r="12.2" fill="#e6332a"/>
<text x="1026.5" y="870.4" font-size="29.0" text-anchor="middle" font-weight="normal" fill="#111" textLength="14.2" lengthAdjust="spacingAndGlyphs" stroke="#111" stroke-width="0.3">P</text>
<circle cx="1832.8" cy="817.6" r="12.2" fill="#e6332a"/>
<text x="1833.6" y="828.2" font-size="29.0" text-anchor="middle" font-weight="normal" fill="#111" textLength="14.2" lengthAdjust="spacingAndGlyphs" stroke="#111" stroke-width="0.3">P</text>
<circle cx="1644.8" cy="927.5" r="12.2" fill="#e6332a"/>
<text x="1645.6" y="938.1" font-size="29.0" text-anchor="middle" font-weight="normal" fill="#111" textLength="14.2" lengthAdjust="spacingAndGlyphs" stroke="#111" stroke-width="0.3">P</text>
<circle cx="1768.7" cy="926.5" r="12.2" fill="#e6332a"/>
<text x="1769.5" y="937.1" font-size="29.0" text-anchor="middle" font-weight="normal" fill="#111" textLength="14.2" lengthAdjust="spacingAndGlyphs" stroke="#111" stroke-width="0.3">P</text>
<circle cx="1888.0" cy="928.0" r="12.2" fill="#e6332a"/>
<text x="1888.8" y="938.6" font-size="29.0" text-anchor="middle" font-weight="normal" fill="#111" textLength="14.2" lengthAdjust="spacingAndGlyphs" stroke="#111" stroke-width="0.3">P</text>
<circle cx="1876.2" cy="999.3" r="12.2" fill="#e6332a"/>
<text x="1877.0" y="1009.9" font-size="29.0" text-anchor="middle" font-weight="normal" fill="#111" textLength="14.2" lengthAdjust="spacingAndGlyphs" stroke="#111" stroke-width="0.3">P</text>
<circle cx="1467.9" cy="1163.6" r="12.2" fill="#e6332a"/>
<text x="1468.7" y="1174.2" font-size="29.0" text-anchor="middle" font-weight="normal" fill="#111" textLength="14.2" lengthAdjust="spacingAndGlyphs" stroke="#111" stroke-width="0.3">P</text>
<circle cx="1599.5" cy="1163.6" r="12.2" fill="#e6332a"/>
<text x="1600.3" y="1174.2" font-size="29.0" text-anchor="middle" font-weight="normal" fill="#111" textLength="14.2" lengthAdjust="spacingAndGlyphs" stroke="#111" stroke-width="0.3">P</text>
<circle cx="1713.0" cy="1163.6" r="12.2" fill="#e6332a"/>
<text x="1713.8" y="1174.2" font-size="29.0" text-anchor="middle" font-weight="normal" fill="#111" textLength="14.2" lengthAdjust="spacingAndGlyphs" stroke="#111" stroke-width="0.3">P</text>
<circle cx="1354.6" cy="507.2" r="11.4" fill="#e6332a"/>
<text x="1355.3" y="517.1" font-size="27.1" text-anchor="middle" font-weight="normal" fill="#111" textLength="13.3" lengthAdjust="spacingAndGlyphs" stroke="#111" stroke-width="0.3">P</text>
<circle cx="1481.0" cy="508.3" r="11.4" fill="#e6332a"/>
<text x="1481.7" y="518.2" font-size="27.1" text-anchor="middle" font-weight="normal" fill="#111" textLength="13.3" lengthAdjust="spacingAndGlyphs" stroke="#111" stroke-width="0.3">P</text>
<circle cx="1351.8" cy="567.1" r="11.4" fill="#e6332a"/>
<text x="1352.5" y="577.0" font-size="27.1" text-anchor="middle" font-weight="normal" fill="#111" textLength="13.3" lengthAdjust="spacingAndGlyphs" stroke="#111" stroke-width="0.3">P</text>
<circle cx="1353.3" cy="662.4" r="11.4" fill="#e6332a"/>
<text x="1354.0" y="672.3" font-size="27.1" text-anchor="middle" font-weight="normal" fill="#111" textLength="13.3" lengthAdjust="spacingAndGlyphs" stroke="#111" stroke-width="0.3">P</text>
<circle cx="1676.0" cy="509.2" r="11.4" fill="#e6332a"/>
<text x="1676.7" y="519.1" font-size="27.1" text-anchor="middle" font-weight="normal" fill="#111" textLength="13.3" lengthAdjust="spacingAndGlyphs" stroke="#111" stroke-width="0.3">P</text>
<circle cx="1672.6" cy="573.0" r="11.4" fill="#e6332a"/>
<text x="1673.3" y="582.9" font-size="27.1" text-anchor="middle" font-weight="normal" fill="#111" textLength="13.3" lengthAdjust="spacingAndGlyphs" stroke="#111" stroke-width="0.3">P</text>
<circle cx="677.4" cy="864.5" r="11.4" fill="#e6332a"/>
<text x="678.1" y="874.4" font-size="27.1" text-anchor="middle" font-weight="normal" fill="#111" textLength="13.3" lengthAdjust="spacingAndGlyphs" stroke="#111" stroke-width="0.3">P</text>
<circle cx="661.8" cy="920.0" r="11.4" fill="#e6332a"/>
<text x="662.5" y="929.9" font-size="27.1" text-anchor="middle" font-weight="normal" fill="#111" textLength="13.3" lengthAdjust="spacingAndGlyphs" stroke="#111" stroke-width="0.3">P</text>
<circle cx="843.2" cy="928.4" r="11.4" fill="#e6332a"/>
<text x="843.9" y="938.3" font-size="27.1" text-anchor="middle" font-weight="normal" fill="#111" textLength="13.3" lengthAdjust="spacingAndGlyphs" stroke="#111" stroke-width="0.3">P</text>
<circle cx="892.4" cy="985.0" r="11.4" fill="#e6332a"/>
<text x="893.1" y="994.9" font-size="27.1" text-anchor="middle" font-weight="normal" fill="#111" textLength="13.3" lengthAdjust="spacingAndGlyphs" stroke="#111" stroke-width="0.3">P</text>
<circle cx="1062.4" cy="983.6" r="11.4" fill="#e6332a"/>
<text x="1063.1" y="993.5" font-size="27.1" text-anchor="middle" font-weight="normal" fill="#111" textLength="13.3" lengthAdjust="spacingAndGlyphs" stroke="#111" stroke-width="0.3">P</text>
<circle cx="497.2" cy="724.5" r="11.4" fill="#e6332a"/>
<text x="497.9" y="734.4" font-size="27.1" text-anchor="middle" font-weight="normal" fill="#111" textLength="13.3" lengthAdjust="spacingAndGlyphs" stroke="#111" stroke-width="0.3">P</text>
<circle cx="295.6" cy="720.6" r="13.7" fill="#fff" stroke="#2b3d9b" stroke-width="2.1"/>
<circle cx="165.3" cy="809.8" r="13.7" fill="#fff" stroke="#2b3d9b" stroke-width="2.1"/>
<circle cx="180.3" cy="899.2" r="13.7" fill="#fff" stroke="#2b3d9b" stroke-width="2.1"/>
<circle cx="341.8" cy="969.2" r="13.7" fill="#fff" stroke="#2b3d9b" stroke-width="2.1"/>
<circle cx="766.3" cy="867.5" r="12.6" fill="#fff" stroke="#2b3d9b" stroke-width="2.1"/>
<circle cx="963.0" cy="984.5" r="12.6" fill="#fff" stroke="#2b3d9b" stroke-width="2.1"/>
<circle cx="1450.8" cy="506.5" r="12.6" fill="#fff" stroke="#2b3d9b" stroke-width="2.1"/>
<circle cx="1446.2" cy="567.3" r="12.6" fill="#fff" stroke="#2b3d9b" stroke-width="2.1"/>
<circle cx="1451.1" cy="656.9" r="12.6" fill="#fff" stroke="#2b3d9b" stroke-width="2.1"/>
<circle cx="1744.5" cy="512.0" r="12.6" fill="#fff" stroke="#2b3d9b" stroke-width="2.1"/>
<circle cx="1845.6" cy="510.6" r="12.6" fill="#fff" stroke="#2b3d9b" stroke-width="2.1"/>
<circle cx="1863.7" cy="817.6" r="12.6" fill="#fff" stroke="#2b3d9b" stroke-width="2.1"/>
<text x="205.8" y="71.2" font-size="32" text-anchor="start" font-weight="normal" fill="#1a1a1a" textLength="264.0" lengthAdjust="spacingAndGlyphs" stroke="#1a1a1a" stroke-width="0.45">Поглощение глюкозы</text>
<text x="31.2" y="366.2" font-size="32" text-anchor="start" font-weight="normal" fill="#1a1a1a" textLength="169.5" lengthAdjust="spacingAndGlyphs" stroke="#1a1a1a" stroke-width="0.45">Транслокация</text>
<text x="342.4" y="236.5" font-size="32" text-anchor="start" font-weight="normal" fill="#1a1a1a" textLength="51.0" lengthAdjust="spacingAndGlyphs" stroke="#1a1a1a" stroke-width="0.45">PIP3</text>
<text x="477.3" y="236.5" font-size="32" text-anchor="start" font-weight="normal" fill="#1a1a1a" textLength="51.0" lengthAdjust="spacingAndGlyphs" stroke="#1a1a1a" stroke-width="0.45">PIP3</text>
<text x="586.3" y="236.5" font-size="32" text-anchor="start" font-weight="normal" fill="#1a1a1a" textLength="51.0" lengthAdjust="spacingAndGlyphs" stroke="#1a1a1a" stroke-width="0.45">PIP3</text>
<text x="712.9" y="235.7" font-size="32" text-anchor="start" font-weight="normal" fill="#1a1a1a" textLength="51.5" lengthAdjust="spacingAndGlyphs" stroke="#1a1a1a" stroke-width="0.45">PIP2</text>
<text x="857.7" y="251.6" font-size="32" text-anchor="start" font-weight="normal" fill="#1a1a1a" textLength="189.0" lengthAdjust="spacingAndGlyphs" stroke="#1a1a1a" stroke-width="0.45">β-субъединицы</text>
<text x="1158.5" y="94.0" font-size="32" text-anchor="start" font-weight="normal" fill="#1a1a1a" textLength="191.5" lengthAdjust="spacingAndGlyphs" stroke="#1a1a1a" stroke-width="0.45">α-субъединицы</text>
<text x="1513.9" y="124.8" font-size="32" text-anchor="start" font-weight="normal" fill="#1a1a1a" textLength="258.7" lengthAdjust="spacingAndGlyphs" stroke="#1a1a1a" stroke-width="0.45">Клеточная мембрана</text>
<text x="1573.2" y="338.0" font-size="32" text-anchor="start" font-weight="normal" fill="#1a1a1a" textLength="117.0" lengthAdjust="spacingAndGlyphs" stroke="#1a1a1a" stroke-width="0.45">Саркомер</text>
<text x="1328.4" y="490.2" font-size="27.5" text-anchor="start" font-weight="normal" fill="#1a1a1a" textLength="315.4" lengthAdjust="spacingAndGlyphs" stroke="#1a1a1a" stroke-width="0.45">Толстые филаменты миозина</text>
<text x="1661.4" y="496.3" font-size="27.5" text-anchor="start" font-weight="normal" fill="#1a1a1a" textLength="224.8" lengthAdjust="spacingAndGlyphs" stroke="#1a1a1a" stroke-width="0.45">Компоненты Z-диска</text>
<text x="1329.0" y="638.1" font-size="27.5" text-anchor="start" font-weight="normal" fill="#1a1a1a" textLength="234.8" lengthAdjust="spacingAndGlyphs" stroke="#1a1a1a" stroke-width="0.45">Компоненты М-линии</text>
<text x="25.4" y="625.5" font-size="32" text-anchor="start" font-weight="normal" fill="#1a1a1a" textLength="117.0" lengthAdjust="spacingAndGlyphs" stroke="#1a1a1a" stroke-width="0.45">Везикула,</text>
<text x="25.4" y="662.8" font-size="32" text-anchor="start" font-weight="normal" fill="#1a1a1a" textLength="155.3" lengthAdjust="spacingAndGlyphs" stroke="#1a1a1a" stroke-width="0.45">содержащая</text>
<text x="25.4" y="699.4" font-size="32" text-anchor="start" font-weight="normal" fill="#1a1a1a" textLength="82.4" lengthAdjust="spacingAndGlyphs" stroke="#1a1a1a" stroke-width="0.45">GLUT 4</text>
<text x="462.9" y="828.5" font-size="32" text-anchor="start" font-weight="normal" fill="#1a1a1a" textLength="140.7" lengthAdjust="spacingAndGlyphs" stroke="#1a1a1a" stroke-width="0.45">Увеличение</text>
<text x="471.3" y="866.8" font-size="32" text-anchor="start" font-weight="normal" fill="#1a1a1a" textLength="123.7" lengthAdjust="spacingAndGlyphs" stroke="#1a1a1a" stroke-width="0.45">гликолиза</text>
<text x="93.4" y="1104.6" font-size="32" text-anchor="start" font-weight="normal" fill="#1a1a1a" textLength="213.2" lengthAdjust="spacingAndGlyphs" stroke="#1a1a1a" stroke-width="0.45">Синтез гликогена</text>
<text x="462.2" y="1030.0" font-size="32" text-anchor="start" font-weight="normal" fill="#1a1a1a" textLength="237.2" lengthAdjust="spacingAndGlyphs" stroke="#1a1a1a" stroke-width="0.45">Биосинтез липидов</text>
<text x="735.0" y="1035.7" font-size="32" text-anchor="start" font-weight="normal" fill="#1a1a1a" textLength="126.8" lengthAdjust="spacingAndGlyphs" stroke="#1a1a1a" stroke-width="0.45">Аутофагия</text>
<text x="641.4" y="1134.0" font-size="32" text-anchor="start" font-weight="normal" fill="#1a1a1a" textLength="156.0" lengthAdjust="spacingAndGlyphs" stroke="#1a1a1a" stroke-width="0.45">Организация</text>
<text x="628.0" y="1170.6" font-size="32" text-anchor="start" font-weight="normal" fill="#1a1a1a" textLength="183.3" lengthAdjust="spacingAndGlyphs" stroke="#1a1a1a" stroke-width="0.45">микротрубочек</text>
<text x="844.8" y="1089.0" font-size="32" text-anchor="start" font-weight="normal" fill="#1a1a1a" textLength="246.2" lengthAdjust="spacingAndGlyphs" stroke="#1a1a1a" stroke-width="0.45">Стимуляция синтеза</text>
<text x="925.5" y="1125.5" font-size="32" text-anchor="start" font-weight="normal" fill="#1a1a1a" textLength="84.8" lengthAdjust="spacingAndGlyphs" stroke="#1a1a1a" stroke-width="0.45">белков</text>
<text x="871.3" y="1218.8" font-size="37" text-anchor="start" font-weight="normal" fill="#1a1a1a" textLength="76.3" lengthAdjust="spacingAndGlyphs" stroke="#1a1a1a" stroke-width="0.45">Ядро</text>
<text x="1030.6" y="1258.4" font-size="32" text-anchor="start" font-weight="normal" fill="#1a1a1a" textLength="303.4" lengthAdjust="spacingAndGlyphs" stroke="#1a1a1a" stroke-width="0.45">Регуляция транскрипции</text>
<text x="1067.0" y="809.3" font-size="32" text-anchor="start" font-weight="normal" fill="#1a1a1a" textLength="246.0" lengthAdjust="spacingAndGlyphs" stroke="#1a1a1a" stroke-width="0.45">Клеточное деление,</text>
<text x="1114.4" y="846.0" font-size="32" text-anchor="start" font-weight="normal" fill="#1a1a1a" textLength="150.0" lengthAdjust="spacingAndGlyphs" stroke="#1a1a1a" stroke-width="0.45">рост клеток,</text>
<text x="1103.0" y="883.0" font-size="32" text-anchor="start" font-weight="normal" fill="#1a1a1a" textLength="173.5" lengthAdjust="spacingAndGlyphs" stroke="#1a1a1a" stroke-width="0.45">синтез белков</text>
<text x="1087.6" y="920.4" font-size="32" text-anchor="start" font-weight="normal" fill="#1a1a1a" textLength="204.2" lengthAdjust="spacingAndGlyphs" stroke="#1a1a1a" stroke-width="0.45">и выживаемость</text>
<text x="1546.8" y="854.2" font-size="32" text-anchor="start" font-weight="normal" fill="#1a1a1a" textLength="319.1" lengthAdjust="spacingAndGlyphs" stroke="#1a1a1a" stroke-width="0.45">Митохондриальные белки</text>
<text x="1360.8" y="961.4" font-size="32" text-anchor="start" font-weight="normal" fill="#1a1a1a" textLength="129.2" lengthAdjust="spacingAndGlyphs" stroke="#1a1a1a" stroke-width="0.45">Шапероны</text>
<text x="1307.0" y="1033.6" font-size="32" text-anchor="start" font-weight="normal" fill="#1a1a1a" textLength="281.5" lengthAdjust="spacingAndGlyphs" stroke="#1a1a1a" stroke-width="0.45">Кальциевый сигналинг</text>
<text x="990.0" y="224.8" font-size="31" text-anchor="start" font-weight="bold" fill="#111" textLength="58.3" lengthAdjust="spacingAndGlyphs">INSR</text>
<text x="1342.3" y="270.6" font-size="37" text-anchor="middle" font-weight="normal" fill="#1a1a1a" textLength="14.5" lengthAdjust="spacingAndGlyphs" stroke="#1a1a1a" stroke-width="0.8">?</text>
<text x="2034.8" y="450.0" font-size="37" text-anchor="middle" font-weight="normal" fill="#1a1a1a" textLength="14.5" lengthAdjust="spacingAndGlyphs" stroke="#1a1a1a" stroke-width="0.8">?</text>
<text x="1453.9" y="608.5" font-size="26" text-anchor="start" font-weight="bold" fill="#111" textLength="18.0" lengthAdjust="spacingAndGlyphs">...</text>
<text x="1458.0" y="699.5" font-size="26" text-anchor="start" font-weight="bold" fill="#111" textLength="18.0" lengthAdjust="spacingAndGlyphs">...</text>
<text x="1774.0" y="615.0" font-size="26" text-anchor="start" font-weight="bold" fill="#111" textLength="18.0" lengthAdjust="spacingAndGlyphs">...</text>
<text x="1898.8" y="969.5" font-size="26" text-anchor="start" font-weight="bold" fill="#111" textLength="18.0" lengthAdjust="spacingAndGlyphs">...</text>
<text x="1887.6" y="1045.0" font-size="26" text-anchor="start" font-weight="bold" fill="#111" textLength="18.0" lengthAdjust="spacingAndGlyphs">...</text>
<text x="1730.0" y="1211.5" font-size="26" text-anchor="start" font-weight="bold" fill="#111" textLength="18.0" lengthAdjust="spacingAndGlyphs">...</text>
</g>
</svg>
</body></html>
